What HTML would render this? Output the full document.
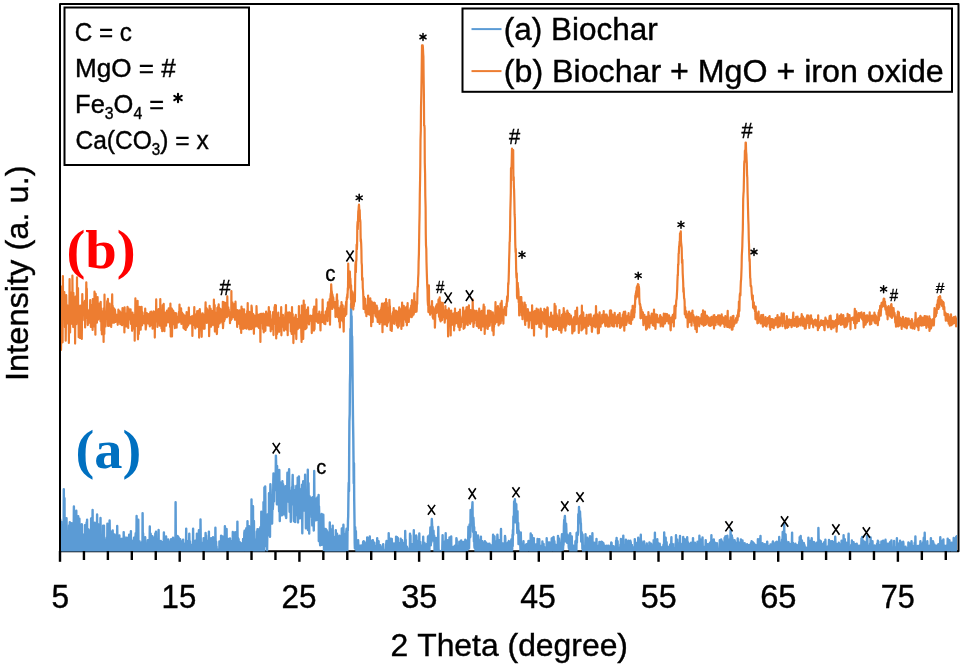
<!DOCTYPE html>
<html><head><meta charset="utf-8">
<style>
html,body{margin:0;padding:0;background:#fff;}
body{width:962px;height:665px;overflow:hidden;}
svg{display:block;will-change:transform;}
text{font-family:"Liberation Sans",sans-serif;fill:#000;stroke:#000;stroke-width:0.4px;font-kerning:none;white-space:pre;}
.serif{font-family:"Liberation Serif",serif;font-weight:bold;}
</style></head>
<body>
<svg width="962" height="665" viewBox="0 0 962 665">
<defs><clipPath id="pa"><rect x="61" y="5" width="896" height="546.5"/></clipPath></defs>
<rect x="0" y="0" width="962" height="665" fill="#fff"/>
<rect x="60" y="4" width="898.5" height="547.3" fill="none" stroke="#000" stroke-width="2" stroke-linejoin="round"/>
<g clip-path="url(#pa)" fill="none" stroke-linejoin="round">
<polyline stroke="#5B9BD5" stroke-width="2.4" points="60.0,532.1 60.2,519.4 60.5,561.0 60.7,560.0 61.0,540.1 61.2,521.6 61.4,571.4 61.7,525.0 61.9,526.3 62.2,562.5 62.4,540.2 62.6,541.0 62.9,561.3 63.1,536.5 63.4,535.2 63.6,534.2 63.8,489.3 64.1,526.8 64.3,532.7 64.5,498.2 64.8,565.2 65.0,546.6 65.3,533.0 65.5,559.2 65.7,561.3 66.0,535.3 66.2,536.3 66.5,518.2 66.7,532.8 66.9,535.4 67.2,535.8 67.4,542.6 67.7,571.4 67.9,562.1 68.1,531.1 68.4,544.7 68.6,563.7 68.9,571.4 69.1,525.5 69.3,547.2 69.6,542.0 69.8,522.2 70.1,535.8 70.3,524.6 70.5,532.9 70.8,529.7 71.0,552.4 71.3,535.3 71.5,536.0 71.7,523.2 72.0,539.3 72.2,534.1 72.4,560.5 72.7,564.1 72.9,540.5 73.2,547.8 73.4,526.8 73.6,539.0 73.9,506.4 74.1,534.5 74.4,534.2 74.6,533.4 74.8,532.4 75.1,570.3 75.3,537.7 75.6,567.1 75.8,538.6 76.0,552.1 76.3,510.7 76.5,544.6 76.8,532.7 77.0,541.5 77.2,567.8 77.5,567.9 77.7,549.3 78.0,525.8 78.2,516.1 78.4,566.7 78.7,535.5 78.9,564.5 79.2,545.8 79.4,518.8 79.6,535.9 79.9,546.5 80.1,561.6 80.3,556.2 80.6,535.7 80.8,539.8 81.1,539.0 81.3,544.1 81.5,561.2 81.8,524.3 82.0,571.3 82.3,564.7 82.5,541.5 82.7,571.2 83.0,565.1 83.2,540.3 83.5,563.5 83.7,550.6 83.9,562.0 84.2,534.2 84.4,539.2 84.7,565.6 84.9,525.2 85.1,541.3 85.4,536.1 85.6,533.7 85.9,564.8 86.1,537.7 86.3,531.1 86.6,522.5 86.8,549.1 87.1,519.8 87.3,571.8 87.5,559.4 87.8,529.4 88.0,550.1 88.2,563.6 88.5,529.4 88.7,561.0 89.0,571.2 89.2,530.5 89.4,568.0 89.7,533.2 89.9,545.8 90.2,547.0 90.4,541.6 90.6,564.4 90.9,559.0 91.1,518.4 91.4,567.1 91.6,542.4 91.8,544.5 92.1,564.3 92.3,540.1 92.6,510.0 92.8,538.8 93.0,538.8 93.3,525.1 93.5,533.3 93.8,537.7 94.0,540.7 94.2,526.8 94.5,570.9 94.7,522.8 95.0,557.2 95.2,540.9 95.4,539.2 95.7,563.4 95.9,545.8 96.1,531.3 96.4,535.9 96.6,534.7 96.9,537.2 97.1,514.5 97.3,543.5 97.6,541.9 97.8,547.9 98.1,560.2 98.3,564.7 98.5,524.4 98.8,530.1 99.0,553.3 99.3,538.2 99.5,540.6 99.7,538.4 100.0,537.0 100.2,544.7 100.5,518.0 100.7,541.1 100.9,537.9 101.2,559.4 101.4,549.3 101.7,558.8 101.9,542.3 102.1,566.9 102.4,565.0 102.6,535.4 102.9,553.7 103.1,525.6 103.3,532.8 103.6,528.7 103.8,540.6 104.0,525.6 104.3,564.2 104.5,565.3 104.8,568.8 105.0,547.0 105.2,547.2 105.5,566.7 105.7,540.0 106.0,563.3 106.2,539.7 106.4,550.9 106.7,537.7 106.9,568.6 107.2,545.6 107.4,523.7 107.6,540.9 107.9,565.9 108.1,538.4 108.4,539.6 108.6,567.5 108.8,540.4 109.1,563.4 109.3,565.7 109.6,520.4 109.8,531.5 110.0,561.4 110.3,564.5 110.5,545.9 110.8,554.7 111.0,539.7 111.2,534.7 111.5,546.2 111.7,531.5 111.9,534.9 112.2,553.7 112.4,536.1 112.7,530.5 112.9,550.3 113.1,541.3 113.4,540.0 113.6,540.7 113.9,556.3 114.1,539.6 114.3,540.4 114.6,534.4 114.8,535.4 115.1,565.6 115.3,538.3 115.5,567.3 115.8,560.2 116.0,552.3 116.3,565.8 116.5,540.4 116.7,550.1 117.0,542.3 117.2,525.9 117.5,545.7 117.7,549.0 117.9,544.3 118.2,566.6 118.4,556.3 118.7,545.9 118.9,554.1 119.1,540.7 119.4,535.4 119.6,546.1 119.8,567.9 120.1,565.0 120.3,550.6 120.6,549.6 120.8,547.4 121.0,565.5 121.3,569.3 121.5,538.9 121.8,543.0 122.0,548.3 122.2,558.6 122.5,538.8 122.7,554.7 123.0,554.6 123.2,568.6 123.4,558.4 123.7,532.1 123.9,549.4 124.2,548.5 124.4,536.7 124.6,542.9 124.9,552.3 125.1,569.6 125.4,563.6 125.6,547.2 125.8,568.9 126.1,557.3 126.3,540.8 126.6,539.4 126.8,537.7 127.0,542.3 127.3,547.6 127.5,563.1 127.8,559.3 128.0,540.4 128.2,564.4 128.5,563.7 128.7,545.2 128.9,540.9 129.2,534.6 129.4,555.7 129.7,553.0 129.9,539.5 130.1,543.6 130.4,541.9 130.6,567.6 130.9,531.1 131.1,565.5 131.3,540.3 131.6,569.7 131.8,543.7 132.1,568.1 132.3,540.9 132.5,540.9 132.8,541.9 133.0,546.9 133.3,548.0 133.5,566.1 133.7,562.7 134.0,537.8 134.2,545.4 134.5,566.6 134.7,566.0 134.9,541.9 135.2,567.9 135.4,538.4 135.7,533.2 135.9,547.9 136.1,555.2 136.4,540.9 136.6,516.0 136.8,554.7 137.1,542.2 137.3,538.7 137.6,533.1 137.8,556.0 138.0,558.1 138.3,519.8 138.5,556.4 138.8,568.1 139.0,566.3 139.2,546.9 139.5,541.2 139.7,553.0 140.0,564.4 140.2,552.0 140.4,563.3 140.7,560.3 140.9,546.5 141.2,565.5 141.4,549.5 141.6,549.5 141.9,542.1 142.1,567.1 142.4,561.6 142.6,513.1 142.8,535.6 143.1,533.5 143.3,551.2 143.6,568.6 143.8,551.8 144.0,556.0 144.3,565.4 144.5,546.2 144.7,556.1 145.0,553.6 145.2,537.2 145.5,546.4 145.7,553.3 145.9,567.9 146.2,550.7 146.4,545.8 146.7,550.3 146.9,546.0 147.1,544.1 147.4,545.7 147.6,547.9 147.9,540.1 148.1,566.7 148.3,553.5 148.6,555.5 148.8,570.4 149.1,571.9 149.3,565.9 149.5,551.7 149.8,526.4 150.0,552.5 150.3,546.2 150.5,563.8 150.7,533.8 151.0,564.1 151.2,549.6 151.5,565.6 151.7,560.6 151.9,551.6 152.2,546.8 152.4,536.2 152.6,566.8 152.9,538.7 153.1,541.1 153.4,542.5 153.6,537.8 153.8,543.1 154.1,541.8 154.3,549.9 154.6,554.1 154.8,566.4 155.0,554.2 155.3,533.4 155.5,565.7 155.8,549.3 156.0,531.8 156.2,554.6 156.5,559.4 156.7,558.4 157.0,567.1 157.2,545.2 157.4,539.8 157.7,550.4 157.9,562.7 158.2,542.7 158.4,544.0 158.6,530.0 158.9,566.5 159.1,547.7 159.4,543.0 159.6,561.9 159.8,568.5 160.1,564.4 160.3,552.6 160.5,545.7 160.8,541.0 161.0,560.8 161.3,567.0 161.5,571.0 161.7,567.8 162.0,546.9 162.2,547.9 162.5,542.3 162.7,546.1 162.9,542.1 163.2,559.0 163.4,545.5 163.7,545.6 163.9,532.4 164.1,564.4 164.4,547.2 164.6,544.3 164.9,545.7 165.1,560.9 165.3,572.0 165.6,552.2 165.8,553.1 166.1,536.5 166.3,553.1 166.5,547.2 166.8,541.6 167.0,562.6 167.3,545.7 167.5,539.8 167.7,547.0 168.0,571.8 168.2,539.4 168.4,543.4 168.7,544.2 168.9,548.0 169.2,545.7 169.4,548.2 169.6,541.8 169.9,548.5 170.1,562.8 170.4,541.5 170.6,569.6 170.8,549.3 171.1,539.1 171.3,563.6 171.6,561.7 171.8,540.6 172.0,547.4 172.3,542.7 172.5,559.5 172.8,548.4 173.0,537.6 173.2,545.4 173.5,545.7 173.7,543.8 174.0,566.2 174.2,545.3 174.4,547.9 174.7,553.7 174.9,550.4 175.2,550.4 175.4,547.7 175.6,502.3 175.9,549.1 176.1,547.4 176.3,548.8 176.6,545.4 176.8,567.4 177.1,536.0 177.3,548.7 177.5,561.8 177.8,536.3 178.0,546.8 178.3,543.4 178.5,560.3 178.7,537.4 179.0,566.0 179.2,546.8 179.5,553.3 179.7,547.9 179.9,539.2 180.2,539.2 180.4,547.1 180.7,541.3 180.9,547.3 181.1,566.7 181.4,546.0 181.6,570.3 181.9,567.0 182.1,543.0 182.3,541.2 182.6,562.1 182.8,542.3 183.1,539.6 183.3,547.6 183.5,567.9 183.8,543.5 184.0,551.8 184.2,544.4 184.5,548.8 184.7,544.5 185.0,551.5 185.2,547.1 185.4,546.4 185.7,544.6 185.9,553.2 186.2,528.6 186.4,550.7 186.6,550.3 186.9,562.7 187.1,561.0 187.4,567.2 187.6,541.3 187.8,543.0 188.1,553.5 188.3,569.1 188.6,550.0 188.8,541.4 189.0,547.0 189.3,533.6 189.5,544.2 189.8,544.9 190.0,541.4 190.2,566.3 190.5,549.5 190.7,551.6 191.0,547.8 191.2,547.0 191.4,555.8 191.7,547.8 191.9,544.6 192.1,556.1 192.4,556.0 192.6,554.4 192.9,550.9 193.1,528.7 193.3,567.9 193.6,554.0 193.8,554.7 194.1,547.3 194.3,571.7 194.5,547.5 194.8,554.8 195.0,551.3 195.3,540.7 195.5,554.0 195.7,545.0 196.0,548.4 196.2,548.2 196.5,562.4 196.7,555.0 196.9,533.6 197.2,536.0 197.4,544.1 197.7,563.3 197.9,544.2 198.1,545.4 198.4,541.4 198.6,553.0 198.9,530.2 199.1,559.5 199.3,557.4 199.6,550.3 199.8,566.3 200.0,539.3 200.3,565.8 200.5,519.4 200.8,545.2 201.0,544.1 201.2,543.8 201.5,545.9 201.7,567.9 202.0,545.2 202.2,570.6 202.4,546.7 202.7,570.1 202.9,542.6 203.2,565.3 203.4,548.0 203.6,538.2 203.9,570.5 204.1,568.8 204.4,560.0 204.6,562.9 204.8,553.8 205.1,550.3 205.3,547.5 205.6,533.0 205.8,550.8 206.0,535.4 206.3,543.5 206.5,569.2 206.8,548.2 207.0,572.6 207.2,540.6 207.5,565.2 207.7,555.5 207.9,565.6 208.2,543.3 208.4,552.6 208.7,551.0 208.9,531.6 209.1,569.3 209.4,542.9 209.6,563.4 209.9,539.5 210.1,568.7 210.3,546.2 210.6,565.2 210.8,545.7 211.1,538.1 211.3,559.0 211.5,550.7 211.8,541.1 212.0,544.7 212.3,549.7 212.5,544.3 212.7,560.2 213.0,537.2 213.2,550.1 213.5,541.2 213.7,565.3 213.9,541.7 214.2,548.3 214.4,542.0 214.7,542.7 214.9,548.1 215.1,567.0 215.4,527.8 215.6,542.3 215.8,552.5 216.1,541.8 216.3,550.3 216.6,546.6 216.8,563.8 217.0,570.7 217.3,550.0 217.5,549.6 217.8,567.8 218.0,551.9 218.2,550.4 218.5,553.6 218.7,560.7 219.0,564.3 219.2,568.7 219.4,541.4 219.7,565.4 219.9,550.3 220.2,544.9 220.4,545.9 220.6,559.4 220.9,555.8 221.1,535.6 221.4,546.3 221.6,539.3 221.8,560.2 222.1,544.4 222.3,565.2 222.6,536.5 222.8,566.8 223.0,568.9 223.3,548.0 223.5,540.6 223.7,559.4 224.0,550.3 224.2,538.8 224.5,562.3 224.7,546.5 224.9,526.2 225.2,568.3 225.4,563.3 225.7,547.4 225.9,566.5 226.1,558.5 226.4,544.6 226.6,528.9 226.9,569.7 227.1,543.2 227.3,548.7 227.6,544.5 227.8,540.6 228.1,564.4 228.3,539.0 228.5,544.8 228.8,552.1 229.0,544.3 229.3,545.7 229.5,553.3 229.7,564.1 230.0,538.4 230.2,554.7 230.5,544.8 230.7,541.0 230.9,547.0 231.2,549.8 231.4,547.5 231.6,544.8 231.9,542.1 232.1,566.2 232.4,556.3 232.6,564.0 232.8,532.0 233.1,556.6 233.3,550.2 233.6,552.8 233.8,536.8 234.0,561.0 234.3,562.4 234.5,548.2 234.8,552.0 235.0,568.7 235.2,532.1 235.5,559.1 235.7,552.8 236.0,565.8 236.2,544.8 236.4,540.4 236.7,546.1 236.9,554.1 237.2,547.6 237.4,521.6 237.6,540.2 237.9,555.4 238.1,538.3 238.4,548.4 238.6,539.2 238.8,571.0 239.1,571.1 239.3,553.0 239.5,545.7 239.8,542.2 240.0,544.9 240.3,552.7 240.5,553.9 240.7,548.8 241.0,560.6 241.2,550.5 241.5,554.1 241.7,545.0 241.9,546.8 242.2,543.0 242.4,562.9 242.7,563.2 242.9,566.5 243.1,539.0 243.4,548.7 243.6,545.4 243.9,538.8 244.1,545.2 244.3,533.2 244.6,530.8 244.8,546.9 245.1,539.0 245.3,548.2 245.5,552.5 245.8,544.2 246.0,561.9 246.3,528.3 246.5,552.0 246.7,538.9 247.0,543.3 247.2,552.7 247.5,521.2 247.7,566.7 247.9,568.7 248.2,530.0 248.4,554.4 248.6,555.2 248.9,559.0 249.1,526.3 249.4,563.1 249.6,528.1 249.8,565.5 250.1,557.6 250.3,540.6 250.6,542.3 250.8,540.4 251.0,536.2 251.3,561.6 251.5,499.5 251.8,550.2 252.0,532.8 252.2,542.2 252.5,561.6 252.7,527.8 253.0,506.2 253.2,545.2 253.4,540.7 253.7,559.9 253.9,521.0 254.2,541.8 254.4,559.0 254.6,540.9 254.9,541.4 255.1,566.5 255.4,563.3 255.6,539.4 255.8,540.6 256.1,539.4 256.3,549.1 256.5,556.3 256.8,531.5 257.0,536.4 257.3,565.8 257.5,529.1 257.7,563.3 258.0,543.8 258.2,542.0 258.5,540.9 258.7,529.4 258.9,535.2 259.2,539.4 259.4,532.2 259.7,543.9 259.9,557.2 260.1,529.5 260.4,527.1 260.6,538.4 260.9,557.2 261.1,558.2 261.3,511.6 261.6,530.6 261.8,538.4 262.1,535.1 262.3,528.9 262.5,557.3 262.8,542.0 263.0,517.9 263.3,560.9 263.5,502.1 263.7,558.8 264.0,535.7 264.2,554.1 264.4,487.4 264.7,531.8 264.9,523.2 265.2,486.4 265.4,501.6 265.6,546.0 265.9,530.6 266.1,518.7 266.4,515.1 266.6,522.7 266.8,522.0 267.1,550.6 267.3,535.4 267.6,514.4 267.8,531.2 268.0,535.2 268.3,516.1 268.5,528.7 268.8,534.8 269.0,493.3 269.2,510.1 269.5,515.5 269.7,502.5 270.0,536.7 270.2,498.0 270.4,484.2 270.7,491.6 270.9,501.4 271.2,508.8 271.4,506.3 271.6,519.9 271.9,507.6 272.1,523.5 272.3,510.0 272.6,495.7 272.8,509.4 273.1,504.4 273.3,480.9 273.5,473.4 273.8,493.0 274.0,501.5 274.3,478.6 274.5,477.3 274.7,480.5 275.0,477.8 275.2,490.1 275.5,481.2 275.7,473.4 275.9,455.6 276.2,466.1 276.4,482.8 276.7,476.3 276.9,504.2 277.1,465.9 277.4,495.5 277.6,492.0 277.9,479.1 278.1,476.8 278.3,500.8 278.6,481.8 278.8,497.1 279.1,511.1 279.3,470.0 279.5,491.3 279.8,521.1 280.0,482.2 280.2,494.8 280.5,497.2 280.7,493.5 281.0,499.4 281.2,494.8 281.4,501.2 281.7,489.5 281.9,515.3 282.2,483.2 282.4,481.3 282.6,500.4 282.9,498.6 283.1,484.3 283.4,493.9 283.6,507.3 283.8,513.3 284.1,514.4 284.3,492.6 284.6,511.9 284.8,493.8 285.0,496.8 285.3,496.5 285.5,486.3 285.8,516.5 286.0,513.7 286.2,518.1 286.5,495.6 286.7,486.3 287.0,491.7 287.2,489.0 287.4,472.8 287.7,501.1 287.9,497.2 288.1,474.7 288.4,489.8 288.6,501.7 288.9,478.3 289.1,469.3 289.3,493.3 289.6,511.8 289.8,495.2 290.1,490.8 290.3,496.5 290.5,500.5 290.8,521.8 291.0,494.0 291.3,497.1 291.5,495.0 291.7,499.5 292.0,487.2 292.2,504.3 292.5,481.8 292.7,474.9 292.9,499.5 293.2,496.8 293.4,485.8 293.7,518.0 293.9,521.2 294.1,501.5 294.4,492.2 294.6,500.6 294.9,495.4 295.1,522.1 295.3,516.3 295.6,489.9 295.8,511.3 296.0,500.5 296.3,486.0 296.5,515.1 296.8,504.3 297.0,498.4 297.2,512.8 297.5,511.6 297.7,477.6 298.0,522.4 298.2,487.0 298.4,491.9 298.7,508.8 298.9,476.4 299.2,508.0 299.4,507.8 299.6,488.8 299.9,518.3 300.1,500.7 300.4,508.9 300.6,497.6 300.8,498.7 301.1,508.8 301.3,513.2 301.6,493.9 301.8,502.3 302.0,484.6 302.3,533.2 302.5,507.7 302.8,507.0 303.0,486.2 303.2,481.3 303.5,504.2 303.7,508.6 303.9,510.6 304.2,499.6 304.4,507.9 304.7,505.2 304.9,504.1 305.1,474.8 305.4,498.9 305.6,498.8 305.9,528.2 306.1,491.5 306.3,527.8 306.6,518.2 306.8,492.1 307.1,500.8 307.3,519.2 307.5,521.4 307.8,469.8 308.0,530.0 308.3,517.9 308.5,483.2 308.7,495.9 309.0,509.0 309.2,533.6 309.5,496.1 309.7,506.3 309.9,504.1 310.2,510.0 310.4,498.4 310.7,497.6 310.9,509.7 311.1,505.3 311.4,513.7 311.6,506.0 311.8,517.2 312.1,516.5 312.3,525.4 312.6,509.5 312.8,497.2 313.0,502.2 313.3,506.4 313.5,522.1 313.8,530.6 314.0,514.0 314.2,470.9 314.5,511.2 314.7,510.2 315.0,510.6 315.2,504.3 315.4,498.4 315.7,506.6 315.9,520.4 316.2,509.8 316.4,516.0 316.6,511.2 316.9,511.5 317.1,516.2 317.4,497.4 317.6,501.7 317.8,519.8 318.1,514.2 318.3,515.0 318.6,495.0 318.8,541.1 319.0,506.4 319.3,517.2 319.5,536.6 319.7,519.1 320.0,542.4 320.2,545.4 320.5,533.9 320.7,514.6 320.9,532.6 321.2,533.1 321.4,534.6 321.7,514.0 321.9,537.3 322.1,544.8 322.4,539.3 322.6,538.1 322.9,536.7 323.1,535.1 323.3,514.8 323.6,535.1 323.8,528.3 324.1,561.7 324.3,542.7 324.5,555.4 324.8,545.0 325.0,540.1 325.3,535.8 325.5,557.7 325.7,528.9 326.0,541.6 326.2,545.5 326.5,561.0 326.7,530.3 326.9,563.0 327.2,531.8 327.4,540.7 327.6,550.5 327.9,536.0 328.1,535.6 328.4,553.4 328.6,561.9 328.8,541.0 329.1,532.4 329.3,554.7 329.6,544.9 329.8,522.4 330.0,563.7 330.3,551.2 330.5,529.2 330.8,531.5 331.0,541.2 331.2,539.2 331.5,540.6 331.7,567.2 332.0,549.0 332.2,563.5 332.4,541.7 332.7,525.6 332.9,546.2 333.2,565.6 333.4,546.2 333.6,540.5 333.9,539.6 334.1,542.5 334.4,550.9 334.6,563.0 334.8,557.7 335.1,536.7 335.3,545.9 335.5,554.4 335.8,530.3 336.0,566.5 336.3,545.7 336.5,539.4 336.7,546.7 337.0,533.6 337.2,558.9 337.5,547.6 337.7,559.9 337.9,545.5 338.2,558.5 338.4,553.4 338.7,550.3 338.9,536.4 339.1,558.3 339.4,535.8 339.6,541.8 339.9,537.4 340.1,558.9 340.3,546.7 340.6,546.0 340.8,551.3 341.1,542.6 341.3,549.8 341.5,552.2 341.8,528.5 342.0,537.8 342.3,533.9 342.5,544.1 342.7,536.1 343.0,545.4 343.2,565.7 343.4,524.7 343.7,538.9 343.9,542.3 344.2,544.9 344.4,544.4 344.6,555.7 344.9,544.2 345.1,544.1 345.4,548.8 345.6,535.1 345.8,533.8 346.1,546.7 346.3,531.9 346.6,528.6 346.8,555.8 347.0,552.5 347.3,554.9 347.5,529.7 347.8,530.5 348.0,520.1 348.2,516.4 348.5,490.9 348.7,482.7 349.0,491.3 349.2,450.3 349.4,421.4 349.7,414.1 349.9,384.7 350.2,372.1 350.4,329.0 350.6,348.3 350.9,323.7 351.1,304.0 351.3,323.9 351.6,316.3 351.8,339.0 352.1,336.4 352.3,352.0 352.5,373.4 352.8,402.8 353.0,419.7 353.3,438.0 353.5,457.9 353.7,483.3 354.0,463.2 354.2,499.1 354.5,519.2 354.7,542.8 354.9,548.5 355.2,527.3 355.4,540.3 355.7,541.6 355.9,531.2 356.1,548.9 356.4,543.3 356.6,558.5 356.9,544.0 357.1,561.0 357.3,544.3 357.6,549.8 357.8,563.6 358.1,540.1 358.3,544.2 358.5,549.4 358.8,559.4 359.0,561.3 359.2,563.0 359.5,545.8 359.7,563.6 360.0,550.4 360.2,551.2 360.4,559.1 360.7,554.8 360.9,556.9 361.2,545.4 361.4,549.9 361.6,548.4 361.9,549.2 362.1,548.2 362.4,545.7 362.6,547.9 362.8,565.0 363.1,542.0 363.3,553.2 363.6,541.3 363.8,561.8 364.0,555.9 364.3,541.6 364.5,563.9 364.8,549.7 365.0,546.0 365.2,548.9 365.5,549.5 365.7,563.9 366.0,564.5 366.2,562.0 366.4,544.9 366.7,542.6 366.9,554.6 367.2,537.5 367.4,543.2 367.6,542.9 367.9,550.5 368.1,538.0 368.3,549.3 368.6,553.2 368.8,561.6 369.1,556.3 369.3,539.4 369.5,549.3 369.8,536.4 370.0,562.6 370.3,566.4 370.5,542.9 370.7,547.2 371.0,550.4 371.2,550.8 371.5,550.6 371.7,540.8 371.9,548.8 372.2,546.6 372.4,545.3 372.7,564.0 372.9,540.3 373.1,544.1 373.4,562.8 373.6,544.6 373.9,544.9 374.1,550.7 374.3,542.6 374.6,550.4 374.8,547.5 375.1,555.3 375.3,561.3 375.5,545.9 375.8,554.2 376.0,551.7 376.2,552.5 376.5,557.3 376.7,560.0 377.0,545.8 377.2,538.3 377.4,546.3 377.7,559.9 377.9,547.9 378.2,541.6 378.4,550.7 378.6,541.2 378.9,564.7 379.1,548.9 379.4,560.9 379.6,546.4 379.8,563.3 380.1,548.3 380.3,545.2 380.6,546.7 380.8,550.8 381.0,547.7 381.3,549.2 381.5,559.9 381.8,563.0 382.0,561.5 382.2,550.2 382.5,550.1 382.7,558.1 383.0,547.0 383.2,544.1 383.4,550.5 383.7,560.0 383.9,560.9 384.1,562.8 384.4,563.2 384.6,555.6 384.9,551.4 385.1,560.9 385.3,550.1 385.6,551.0 385.8,551.7 386.1,547.2 386.3,543.0 386.5,541.0 386.8,555.4 387.0,555.0 387.3,544.0 387.5,542.2 387.7,554.6 388.0,543.2 388.2,545.9 388.5,561.2 388.7,533.2 388.9,543.9 389.2,550.4 389.4,547.4 389.7,542.5 389.9,541.0 390.1,562.2 390.4,540.4 390.6,538.7 390.9,550.3 391.1,547.5 391.3,539.6 391.6,551.3 391.8,538.9 392.0,544.3 392.3,555.8 392.5,550.7 392.8,564.3 393.0,552.3 393.2,549.4 393.5,546.6 393.7,561.1 394.0,543.4 394.2,549.9 394.4,545.6 394.7,555.3 394.9,557.1 395.2,552.8 395.4,563.6 395.6,544.4 395.9,547.8 396.1,536.6 396.4,539.9 396.6,553.6 396.8,553.1 397.1,537.1 397.3,545.9 397.6,539.4 397.8,537.9 398.0,552.4 398.3,550.5 398.5,548.1 398.8,554.5 399.0,555.3 399.2,551.4 399.5,542.9 399.7,551.7 399.9,562.5 400.2,551.8 400.4,557.9 400.7,538.7 400.9,564.5 401.1,564.2 401.4,544.9 401.6,562.6 401.9,544.6 402.1,540.2 402.3,554.5 402.6,547.3 402.8,545.4 403.1,542.6 403.3,548.1 403.5,563.2 403.8,549.4 404.0,545.5 404.3,548.8 404.5,544.4 404.7,556.8 405.0,560.8 405.2,530.9 405.5,550.7 405.7,539.7 405.9,565.9 406.2,546.2 406.4,554.7 406.7,548.2 406.9,546.7 407.1,563.2 407.4,548.1 407.6,562.9 407.8,556.3 408.1,556.2 408.3,563.3 408.6,555.1 408.8,554.3 409.0,561.4 409.3,554.8 409.5,554.6 409.8,555.1 410.0,533.8 410.2,560.9 410.5,535.5 410.7,555.5 411.0,544.2 411.2,555.1 411.4,544.8 411.7,544.1 411.9,559.3 412.2,546.1 412.4,556.5 412.6,544.9 412.9,553.5 413.1,555.1 413.4,558.3 413.6,548.0 413.8,530.2 414.1,557.4 414.3,558.1 414.6,548.6 414.8,550.2 415.0,553.3 415.3,543.2 415.5,543.0 415.7,544.1 416.0,550.0 416.2,535.4 416.5,537.0 416.7,561.3 416.9,549.9 417.2,540.7 417.4,560.0 417.7,545.9 417.9,548.3 418.1,553.3 418.4,550.1 418.6,560.4 418.9,552.2 419.1,561.9 419.3,533.4 419.6,556.0 419.8,553.4 420.1,550.9 420.3,541.9 420.5,563.0 420.8,558.7 421.0,558.3 421.3,554.6 421.5,545.6 421.7,552.0 422.0,556.3 422.2,556.1 422.5,562.8 422.7,561.8 422.9,557.5 423.2,536.8 423.4,550.2 423.6,550.9 423.9,565.9 424.1,554.4 424.4,542.6 424.6,563.8 424.8,564.3 425.1,545.8 425.3,561.8 425.6,547.0 425.8,557.9 426.0,545.7 426.3,548.6 426.5,544.1 426.8,544.9 427.0,545.9 427.2,552.0 427.5,547.5 427.7,545.9 428.0,536.5 428.2,543.7 428.4,553.3 428.7,554.1 428.9,545.9 429.2,553.6 429.4,552.4 429.6,535.0 429.9,537.9 430.1,536.0 430.4,527.4 430.6,530.2 430.8,545.4 431.1,529.8 431.3,542.4 431.5,531.0 431.8,519.0 432.0,522.5 432.3,531.2 432.5,526.7 432.7,534.6 433.0,540.5 433.2,538.2 433.5,530.8 433.7,535.7 433.9,540.2 434.2,535.6 434.4,538.3 434.7,563.3 434.9,544.4 435.1,539.7 435.4,559.5 435.6,552.0 435.9,545.9 436.1,537.9 436.3,558.5 436.6,542.4 436.8,553.5 437.1,560.2 437.3,543.6 437.5,547.8 437.8,551.4 438.0,552.9 438.3,527.0 438.5,545.3 438.7,556.6 439.0,554.4 439.2,550.7 439.4,550.9 439.7,560.5 439.9,561.5 440.2,556.9 440.4,551.6 440.6,557.4 440.9,557.4 441.1,551.0 441.4,552.1 441.6,560.7 441.8,550.7 442.1,562.0 442.3,547.9 442.6,535.1 442.8,552.6 443.0,545.5 443.3,543.8 443.5,554.8 443.8,552.4 444.0,547.5 444.2,551.6 444.5,565.1 444.7,541.8 445.0,541.2 445.2,549.8 445.4,547.3 445.7,533.2 445.9,555.8 446.2,547.1 446.4,548.6 446.6,558.5 446.9,544.3 447.1,547.5 447.3,549.0 447.6,540.2 447.8,550.0 448.1,547.3 448.3,548.9 448.5,551.2 448.8,548.7 449.0,553.9 449.3,543.7 449.5,537.5 449.7,537.5 450.0,540.3 450.2,554.9 450.5,538.7 450.7,553.2 450.9,548.9 451.2,536.5 451.4,555.6 451.7,547.0 451.9,546.7 452.1,549.6 452.4,554.3 452.6,551.4 452.9,563.8 453.1,553.5 453.3,560.9 453.6,557.5 453.8,546.8 454.1,560.6 454.3,556.2 454.5,551.8 454.8,547.9 455.0,549.9 455.2,545.8 455.5,557.6 455.7,545.1 456.0,556.3 456.2,563.1 456.4,538.2 456.7,539.9 456.9,559.0 457.2,557.2 457.4,546.0 457.6,559.9 457.9,550.1 458.1,551.4 458.4,560.1 458.6,564.8 458.8,562.7 459.1,556.3 459.3,541.8 459.6,561.6 459.8,559.4 460.0,545.1 460.3,543.7 460.5,549.9 460.8,550.4 461.0,545.4 461.2,540.4 461.5,549.6 461.7,553.2 462.0,548.5 462.2,550.6 462.4,560.8 462.7,563.2 462.9,560.6 463.1,565.2 463.4,542.0 463.6,545.6 463.9,542.3 464.1,558.0 464.3,544.2 464.6,551.5 464.8,559.0 465.1,561.6 465.3,539.7 465.5,542.0 465.8,558.8 466.0,554.3 466.3,546.7 466.5,549.5 466.7,541.0 467.0,555.1 467.2,542.8 467.5,549.6 467.7,543.6 467.9,546.8 468.2,538.6 468.4,526.7 468.7,548.6 468.9,540.1 469.1,548.2 469.4,530.7 469.6,524.4 469.9,529.0 470.1,537.3 470.3,536.3 470.6,509.9 470.8,517.7 471.0,522.1 471.3,518.9 471.5,522.6 471.8,523.5 472.0,525.0 472.2,507.8 472.5,502.3 472.7,520.7 473.0,531.7 473.2,528.5 473.4,517.7 473.7,524.1 473.9,541.5 474.2,527.2 474.4,545.9 474.6,548.0 474.9,533.2 475.1,538.7 475.4,543.6 475.6,553.8 475.8,532.2 476.1,553.2 476.3,549.0 476.6,552.9 476.8,545.1 477.0,540.6 477.3,554.4 477.5,551.5 477.8,558.6 478.0,535.4 478.2,561.7 478.5,560.3 478.7,546.2 478.9,550.3 479.2,562.1 479.4,543.9 479.7,552.4 479.9,540.1 480.1,562.1 480.4,553.5 480.6,539.7 480.9,536.6 481.1,558.8 481.3,550.7 481.6,559.1 481.8,544.6 482.1,556.7 482.3,541.3 482.5,558.1 482.8,560.1 483.0,546.3 483.3,563.5 483.5,547.6 483.7,556.0 484.0,542.6 484.2,557.6 484.5,547.1 484.7,553.3 484.9,541.1 485.2,542.9 485.4,552.4 485.7,544.8 485.9,542.4 486.1,559.2 486.4,551.8 486.6,561.4 486.9,552.1 487.1,546.4 487.3,560.6 487.6,543.8 487.8,543.7 488.0,549.5 488.3,562.7 488.5,552.1 488.8,551.8 489.0,563.8 489.2,549.0 489.5,543.8 489.7,551.2 490.0,555.8 490.2,563.0 490.4,554.9 490.7,545.3 490.9,559.3 491.2,547.9 491.4,556.1 491.6,550.6 491.9,563.0 492.1,551.2 492.4,563.6 492.6,549.1 492.8,550.8 493.1,534.8 493.3,548.4 493.6,546.3 493.8,548.5 494.0,543.3 494.3,540.7 494.5,536.5 494.8,558.9 495.0,559.6 495.2,541.2 495.5,548.4 495.7,546.9 495.9,561.1 496.2,552.0 496.4,561.1 496.7,559.7 496.9,551.8 497.1,546.6 497.4,534.6 497.6,538.1 497.9,559.5 498.1,560.0 498.3,543.0 498.6,563.8 498.8,548.6 499.1,558.8 499.3,540.1 499.5,545.0 499.8,564.8 500.0,549.1 500.3,545.9 500.5,550.2 500.7,548.7 501.0,528.9 501.2,549.6 501.5,554.4 501.7,546.7 501.9,561.5 502.2,550.2 502.4,548.8 502.7,543.4 502.9,546.7 503.1,545.1 503.4,563.3 503.6,560.3 503.8,551.1 504.1,547.1 504.3,543.2 504.6,554.7 504.8,546.0 505.0,536.0 505.3,538.2 505.5,548.3 505.8,563.2 506.0,552.1 506.2,556.9 506.5,544.4 506.7,545.3 507.0,558.0 507.2,547.3 507.4,559.7 507.7,543.0 507.9,544.6 508.2,542.3 508.4,547.7 508.6,542.2 508.9,541.1 509.1,548.6 509.4,547.8 509.6,560.1 509.8,562.7 510.1,559.4 510.3,553.7 510.6,543.1 510.8,541.5 511.0,553.3 511.3,539.8 511.5,539.2 511.7,551.3 512.0,546.5 512.2,549.9 512.5,534.7 512.7,546.0 512.9,529.9 513.2,535.1 513.4,516.5 513.7,521.5 513.9,522.4 514.1,501.4 514.4,518.2 514.6,522.3 514.9,499.3 515.1,519.1 515.3,516.8 515.6,503.4 515.8,515.6 516.1,517.2 516.3,504.2 516.5,522.4 516.8,523.5 517.0,517.3 517.3,533.1 517.5,511.3 517.7,530.5 518.0,532.0 518.2,522.9 518.5,544.0 518.7,530.3 518.9,532.2 519.2,541.0 519.4,543.0 519.6,541.8 519.9,538.0 520.1,539.6 520.4,547.9 520.6,558.0 520.8,532.5 521.1,548.5 521.3,546.5 521.6,557.1 521.8,549.5 522.0,553.2 522.3,549.2 522.5,549.4 522.8,551.2 523.0,556.4 523.2,549.4 523.5,541.3 523.7,562.7 524.0,547.5 524.2,560.5 524.4,561.0 524.7,548.5 524.9,555.4 525.2,558.5 525.4,545.4 525.6,552.9 525.9,544.9 526.1,560.5 526.4,544.2 526.6,550.1 526.8,557.3 527.1,563.4 527.3,550.1 527.5,545.2 527.8,550.9 528.0,550.5 528.3,542.9 528.5,541.0 528.7,543.5 529.0,541.8 529.2,545.4 529.5,548.7 529.7,542.8 529.9,545.8 530.2,547.9 530.4,560.0 530.7,533.5 530.9,548.2 531.1,549.7 531.4,550.5 531.6,548.5 531.9,535.3 532.1,541.9 532.3,560.4 532.6,546.5 532.8,558.1 533.1,546.7 533.3,561.9 533.5,548.1 533.8,538.1 534.0,546.1 534.3,559.1 534.5,560.3 534.7,553.2 535.0,548.1 535.2,562.6 535.4,558.4 535.7,552.8 535.9,544.4 536.2,558.6 536.4,547.7 536.6,562.2 536.9,551.2 537.1,559.2 537.4,547.6 537.6,538.9 537.8,547.4 538.1,546.1 538.3,554.4 538.6,560.8 538.8,551.7 539.0,543.5 539.3,539.1 539.5,554.2 539.8,547.8 540.0,548.3 540.2,561.8 540.5,545.6 540.7,548.5 541.0,555.6 541.2,562.5 541.4,560.6 541.7,561.9 541.9,552.4 542.2,558.8 542.4,541.4 542.6,551.4 542.9,548.3 543.1,547.5 543.3,558.6 543.6,544.0 543.8,561.8 544.1,554.7 544.3,551.4 544.5,562.0 544.8,559.6 545.0,547.4 545.3,547.9 545.5,548.5 545.7,551.1 546.0,560.2 546.2,549.3 546.5,563.7 546.7,538.2 546.9,557.9 547.2,550.6 547.4,556.4 547.7,547.4 547.9,549.2 548.1,546.9 548.4,554.5 548.6,542.4 548.9,547.3 549.1,554.4 549.3,552.9 549.6,542.5 549.8,550.5 550.1,561.1 550.3,544.3 550.5,547.4 550.8,557.4 551.0,563.1 551.2,542.5 551.5,556.6 551.7,538.4 552.0,546.0 552.2,543.5 552.4,538.6 552.7,549.9 552.9,537.6 553.2,537.6 553.4,543.4 553.6,537.0 553.9,542.9 554.1,553.3 554.4,541.2 554.6,546.0 554.8,562.6 555.1,547.0 555.3,551.9 555.6,560.1 555.8,552.0 556.0,544.9 556.3,548.2 556.5,552.1 556.8,550.3 557.0,559.0 557.2,551.2 557.5,545.4 557.7,548.4 558.0,535.9 558.2,539.9 558.4,558.7 558.7,539.9 558.9,538.5 559.1,548.5 559.4,559.1 559.6,547.2 559.9,542.6 560.1,547.4 560.3,547.2 560.6,545.2 560.8,550.3 561.1,555.0 561.3,552.2 561.5,540.6 561.8,537.4 562.0,534.1 562.3,540.9 562.5,548.2 562.7,544.7 563.0,549.6 563.2,545.9 563.5,544.8 563.7,539.6 563.9,526.8 564.2,519.9 564.4,530.7 564.7,517.7 564.9,516.0 565.1,521.2 565.4,541.2 565.6,523.4 565.9,531.9 566.1,523.6 566.3,528.3 566.6,537.7 566.8,538.5 567.0,542.8 567.3,536.4 567.5,534.4 567.8,535.7 568.0,535.7 568.2,541.2 568.5,541.1 568.7,546.8 569.0,548.9 569.2,536.2 569.4,540.4 569.7,540.0 569.9,544.0 570.2,533.1 570.4,556.1 570.6,545.4 570.9,553.1 571.1,556.7 571.4,558.5 571.6,551.1 571.8,536.5 572.1,556.8 572.3,555.2 572.6,548.7 572.8,554.6 573.0,548.5 573.3,545.8 573.5,555.5 573.8,559.8 574.0,547.5 574.2,548.1 574.5,546.6 574.7,547.5 574.9,552.4 575.2,555.0 575.4,541.7 575.7,540.8 575.9,549.3 576.1,553.8 576.4,550.1 576.6,533.0 576.9,542.8 577.1,532.4 577.3,535.6 577.6,534.3 577.8,535.0 578.1,532.0 578.3,514.2 578.5,521.0 578.8,519.2 579.0,507.0 579.3,519.0 579.5,514.7 579.7,517.9 580.0,511.5 580.2,516.6 580.5,519.2 580.7,524.3 580.9,523.2 581.2,541.6 581.4,541.4 581.7,532.1 581.9,535.8 582.1,537.1 582.4,548.8 582.6,534.5 582.8,545.2 583.1,546.6 583.3,552.7 583.6,553.3 583.8,555.3 584.0,555.7 584.3,551.0 584.5,547.7 584.8,546.2 585.0,546.1 585.2,547.5 585.5,534.3 585.7,543.9 586.0,554.3 586.2,550.8 586.4,551.1 586.7,548.4 586.9,550.9 587.2,552.5 587.4,537.8 587.6,547.3 587.9,544.5 588.1,560.8 588.4,548.9 588.6,539.5 588.8,544.9 589.1,541.1 589.3,565.5 589.6,545.9 589.8,541.6 590.0,536.3 590.3,547.7 590.5,557.9 590.7,544.4 591.0,551.4 591.2,558.4 591.5,559.4 591.7,560.4 591.9,558.8 592.2,543.7 592.4,533.3 592.7,556.1 592.9,561.9 593.1,560.7 593.4,556.4 593.6,548.3 593.9,545.4 594.1,542.8 594.3,547.5 594.6,548.4 594.8,558.7 595.1,559.0 595.3,563.4 595.5,542.7 595.8,557.6 596.0,548.1 596.3,546.3 596.5,538.9 596.7,562.3 597.0,547.8 597.2,562.4 597.5,556.8 597.7,551.5 597.9,561.3 598.2,547.7 598.4,547.6 598.6,559.0 598.9,545.5 599.1,558.3 599.4,541.9 599.6,547.0 599.8,548.2 600.1,545.3 600.3,558.1 600.6,554.5 600.8,555.5 601.0,543.2 601.3,548.0 601.5,541.6 601.8,547.9 602.0,553.5 602.2,541.9 602.5,547.0 602.7,547.4 603.0,547.6 603.2,546.2 603.4,543.3 603.7,546.7 603.9,557.1 604.2,561.2 604.4,547.5 604.6,546.1 604.9,545.8 605.1,561.0 605.4,562.1 605.6,548.7 605.8,548.2 606.1,557.2 606.3,561.7 606.6,555.4 606.8,545.6 607.0,549.7 607.3,554.7 607.5,546.8 607.7,548.4 608.0,551.8 608.2,554.2 608.5,545.6 608.7,557.3 608.9,561.0 609.2,559.4 609.4,559.6 609.7,549.7 609.9,551.3 610.1,546.2 610.4,549.4 610.6,551.6 610.9,560.9 611.1,544.4 611.3,542.5 611.6,542.8 611.8,559.8 612.1,565.8 612.3,560.3 612.5,549.9 612.8,546.9 613.0,557.5 613.3,548.4 613.5,546.3 613.7,561.8 614.0,547.1 614.2,561.6 614.5,559.2 614.7,562.7 614.9,550.7 615.2,556.3 615.4,556.0 615.6,548.7 615.9,554.3 616.1,540.8 616.4,559.5 616.6,537.9 616.8,542.9 617.1,553.8 617.3,547.3 617.6,541.2 617.8,549.2 618.0,555.0 618.3,559.8 618.5,559.9 618.8,556.7 619.0,558.4 619.2,548.0 619.5,548.7 619.7,553.3 620.0,547.4 620.2,561.3 620.4,544.6 620.7,553.8 620.9,539.0 621.2,555.6 621.4,544.2 621.6,561.8 621.9,541.1 622.1,546.0 622.4,541.9 622.6,548.2 622.8,542.4 623.1,546.0 623.3,535.6 623.5,552.1 623.8,551.3 624.0,545.3 624.3,547.0 624.5,551.3 624.7,545.4 625.0,556.6 625.2,551.7 625.5,559.2 625.7,557.0 625.9,539.7 626.2,549.6 626.4,553.8 626.7,551.0 626.9,560.3 627.1,544.9 627.4,550.2 627.6,546.3 627.9,542.0 628.1,541.5 628.3,540.7 628.6,545.9 628.8,549.2 629.1,557.7 629.3,544.3 629.5,543.2 629.8,558.9 630.0,543.4 630.3,540.6 630.5,560.2 630.7,541.9 631.0,546.2 631.2,558.1 631.4,550.8 631.7,550.4 631.9,545.0 632.2,553.0 632.4,550.6 632.6,549.5 632.9,559.6 633.1,547.6 633.4,559.7 633.6,558.4 633.8,547.1 634.1,560.6 634.3,555.3 634.6,559.5 634.8,539.1 635.0,562.4 635.3,561.7 635.5,548.7 635.8,552.2 636.0,554.3 636.2,546.0 636.5,543.0 636.7,560.1 637.0,559.1 637.2,550.1 637.4,555.0 637.7,544.3 637.9,552.9 638.2,537.7 638.4,547.2 638.6,552.7 638.9,550.9 639.1,554.3 639.3,545.8 639.6,539.4 639.8,558.0 640.1,542.7 640.3,553.5 640.5,546.2 640.8,534.7 641.0,551.0 641.3,540.9 641.5,541.2 641.7,555.0 642.0,561.1 642.2,553.7 642.5,542.4 642.7,550.5 642.9,556.8 643.2,561.3 643.4,547.3 643.7,546.7 643.9,549.9 644.1,541.5 644.4,552.5 644.6,561.8 644.9,550.0 645.1,552.6 645.3,560.2 645.6,545.4 645.8,546.4 646.1,546.8 646.3,555.8 646.5,552.8 646.8,543.5 647.0,563.7 647.2,546.0 647.5,550.2 647.7,560.8 648.0,548.6 648.2,561.1 648.4,554.4 648.7,553.3 648.9,561.5 649.2,548.1 649.4,542.5 649.6,547.1 649.9,558.9 650.1,546.2 650.4,548.8 650.6,546.4 650.8,543.6 651.1,543.6 651.3,551.2 651.6,558.3 651.8,545.1 652.0,546.5 652.3,560.1 652.5,550.9 652.8,547.5 653.0,549.4 653.2,557.6 653.5,560.4 653.7,540.1 654.0,549.6 654.2,540.5 654.4,560.6 654.7,554.6 654.9,532.7 655.1,553.5 655.4,549.7 655.6,561.8 655.9,565.4 656.1,555.7 656.3,559.8 656.6,541.9 656.8,546.9 657.1,549.7 657.3,539.2 657.5,561.3 657.8,542.6 658.0,558.5 658.3,544.5 658.5,557.4 658.7,547.4 659.0,548.5 659.2,552.7 659.5,551.5 659.7,543.7 659.9,548.8 660.2,554.9 660.4,558.9 660.7,559.9 660.9,548.5 661.1,547.5 661.4,547.7 661.6,552.0 661.9,548.1 662.1,556.1 662.3,564.9 662.6,546.8 662.8,557.8 663.0,553.7 663.3,555.2 663.5,544.6 663.8,555.2 664.0,546.7 664.2,532.5 664.5,555.4 664.7,557.4 665.0,561.5 665.2,546.1 665.4,543.9 665.7,537.8 665.9,559.0 666.2,546.7 666.4,549.1 666.6,542.3 666.9,550.4 667.1,559.6 667.4,560.8 667.6,559.1 667.8,546.9 668.1,546.8 668.3,547.5 668.6,553.9 668.8,549.5 669.0,551.1 669.3,554.6 669.5,548.7 669.8,559.5 670.0,558.0 670.2,544.5 670.5,554.5 670.7,545.9 670.9,562.9 671.2,543.4 671.4,537.2 671.7,561.9 671.9,554.1 672.1,552.9 672.4,553.4 672.6,547.5 672.9,544.2 673.1,559.7 673.3,551.4 673.6,548.0 673.8,557.8 674.1,551.8 674.3,553.5 674.5,552.4 674.8,560.8 675.0,560.7 675.3,559.5 675.5,543.4 675.7,558.2 676.0,535.2 676.2,547.6 676.5,550.4 676.7,544.7 676.9,552.9 677.2,539.5 677.4,548.4 677.7,556.1 677.9,549.4 678.1,553.0 678.4,558.6 678.6,557.5 678.8,552.8 679.1,547.3 679.3,545.4 679.6,542.9 679.8,542.0 680.0,536.0 680.3,559.5 680.5,547.6 680.8,543.7 681.0,550.5 681.2,550.4 681.5,551.3 681.7,552.4 682.0,555.2 682.2,557.9 682.4,557.6 682.7,546.5 682.9,557.8 683.2,536.9 683.4,539.0 683.6,542.4 683.9,549.9 684.1,558.2 684.4,556.7 684.6,547.7 684.8,539.2 685.1,557.8 685.3,542.6 685.6,553.3 685.8,548.1 686.0,556.7 686.3,552.5 686.5,545.9 686.7,551.3 687.0,551.8 687.2,537.3 687.5,549.2 687.7,541.7 687.9,551.6 688.2,545.5 688.4,545.9 688.7,558.3 688.9,556.2 689.1,543.8 689.4,560.8 689.6,552.4 689.9,560.5 690.1,550.7 690.3,546.1 690.6,553.8 690.8,561.7 691.1,542.6 691.3,546.9 691.5,561.6 691.8,559.2 692.0,548.5 692.3,554.0 692.5,563.4 692.7,560.0 693.0,538.1 693.2,552.4 693.5,558.7 693.7,561.8 693.9,548.7 694.2,548.3 694.4,546.9 694.6,560.1 694.9,542.7 695.1,553.9 695.4,546.0 695.6,544.6 695.8,550.4 696.1,559.1 696.3,554.3 696.6,544.5 696.8,544.2 697.0,560.5 697.3,556.5 697.5,541.7 697.8,557.7 698.0,558.6 698.2,553.4 698.5,558.8 698.7,548.1 699.0,549.9 699.2,561.6 699.4,535.8 699.7,549.9 699.9,542.9 700.2,542.8 700.4,551.8 700.6,553.8 700.9,539.6 701.1,550.9 701.4,549.0 701.6,552.4 701.8,548.3 702.1,552.3 702.3,560.2 702.5,537.4 702.8,550.9 703.0,556.7 703.3,548.5 703.5,557.3 703.7,548.3 704.0,557.0 704.2,563.1 704.5,546.7 704.7,554.9 704.9,550.4 705.2,561.6 705.4,552.8 705.7,540.1 705.9,544.6 706.1,556.7 706.4,558.3 706.6,543.9 706.9,549.1 707.1,561.2 707.3,546.5 707.6,561.5 707.8,559.8 708.1,544.2 708.3,552.5 708.5,554.5 708.8,556.4 709.0,547.4 709.3,553.4 709.5,545.2 709.7,550.3 710.0,542.6 710.2,561.3 710.4,547.0 710.7,560.1 710.9,555.1 711.2,546.5 711.4,535.3 711.6,556.0 711.9,557.4 712.1,546.9 712.4,546.1 712.6,552.7 712.8,548.4 713.1,558.0 713.3,550.5 713.6,543.7 713.8,539.5 714.0,549.8 714.3,560.2 714.5,546.2 714.8,542.5 715.0,546.0 715.2,553.1 715.5,546.8 715.7,543.3 716.0,559.9 716.2,558.6 716.4,545.9 716.7,546.7 716.9,543.3 717.2,548.3 717.4,552.5 717.6,561.1 717.9,557.4 718.1,554.2 718.3,551.9 718.6,551.5 718.8,557.7 719.1,550.4 719.3,548.9 719.5,552.0 719.8,540.1 720.0,547.0 720.3,550.6 720.5,543.8 720.7,548.0 721.0,551.0 721.2,539.4 721.5,544.0 721.7,549.5 721.9,541.3 722.2,543.3 722.4,546.8 722.7,553.5 722.9,563.9 723.1,546.5 723.4,542.9 723.6,546.5 723.9,558.4 724.1,556.7 724.3,558.1 724.6,538.0 724.8,546.6 725.1,542.1 725.3,536.5 725.5,556.1 725.8,545.6 726.0,549.7 726.3,536.3 726.5,541.2 726.7,545.0 727.0,551.5 727.2,552.0 727.4,535.8 727.7,543.0 727.9,543.5 728.2,551.5 728.4,547.9 728.6,540.5 728.9,547.1 729.1,545.2 729.4,539.4 729.6,549.6 729.8,541.5 730.1,542.5 730.3,540.1 730.6,530.3 730.8,547.0 731.0,556.7 731.3,552.6 731.5,536.3 731.8,535.3 732.0,553.8 732.2,537.4 732.5,539.7 732.7,544.9 733.0,541.9 733.2,540.2 733.4,558.6 733.7,558.1 733.9,559.7 734.2,546.4 734.4,547.6 734.6,540.1 734.9,542.2 735.1,559.1 735.3,548.9 735.6,546.2 735.8,555.6 736.1,542.9 736.3,548.3 736.5,548.3 736.8,562.1 737.0,554.1 737.3,547.8 737.5,557.6 737.7,538.5 738.0,551.3 738.2,561.2 738.5,560.2 738.7,542.4 738.9,547.0 739.2,545.9 739.4,547.7 739.7,558.5 739.9,553.1 740.1,553.0 740.4,546.2 740.6,547.9 740.9,539.4 741.1,552.9 741.3,551.4 741.6,554.4 741.8,540.8 742.1,543.3 742.3,544.3 742.5,540.5 742.8,549.4 743.0,544.6 743.2,560.7 743.5,559.8 743.7,552.1 744.0,557.7 744.2,560.5 744.4,553.0 744.7,543.3 744.9,546.6 745.2,551.6 745.4,551.5 745.6,557.0 745.9,549.7 746.1,561.4 746.4,552.7 746.6,546.3 746.8,551.7 747.1,544.1 747.3,546.2 747.6,548.5 747.8,558.7 748.0,551.5 748.3,560.4 748.5,550.0 748.8,545.1 749.0,551.4 749.2,559.2 749.5,558.2 749.7,546.8 750.0,551.9 750.2,546.5 750.4,544.6 750.7,557.2 750.9,543.3 751.1,546.5 751.4,560.6 751.6,541.3 751.9,552.0 752.1,553.4 752.3,556.2 752.6,551.4 752.8,545.6 753.1,542.5 753.3,547.8 753.5,557.4 753.8,552.8 754.0,543.5 754.3,550.1 754.5,553.2 754.7,549.1 755.0,549.3 755.2,547.2 755.5,545.0 755.7,555.2 755.9,550.2 756.2,550.0 756.4,561.7 756.7,559.1 756.9,549.9 757.1,556.2 757.4,549.2 757.6,557.7 757.9,539.1 758.1,549.0 758.3,551.3 758.6,543.2 758.8,549.7 759.0,545.2 759.3,553.7 759.5,561.1 759.8,563.1 760.0,538.6 760.2,548.7 760.5,535.9 760.7,558.7 761.0,555.8 761.2,559.5 761.4,560.3 761.7,549.4 761.9,551.6 762.2,549.0 762.4,543.1 762.6,543.3 762.9,547.1 763.1,557.7 763.4,547.9 763.6,547.9 763.8,549.3 764.1,560.5 764.3,558.9 764.6,556.0 764.8,544.1 765.0,561.2 765.3,547.5 765.5,556.6 765.8,561.5 766.0,550.4 766.2,565.4 766.5,549.8 766.7,545.2 766.9,546.4 767.2,541.6 767.4,545.1 767.7,547.9 767.9,559.7 768.1,559.7 768.4,547.6 768.6,552.2 768.9,554.4 769.1,558.5 769.3,545.9 769.6,559.3 769.8,559.6 770.1,546.2 770.3,547.1 770.5,544.5 770.8,559.2 771.0,548.4 771.3,556.1 771.5,544.9 771.7,549.1 772.0,547.1 772.2,544.9 772.5,555.4 772.7,542.5 772.9,541.5 773.2,546.3 773.4,561.4 773.7,552.1 773.9,543.4 774.1,547.0 774.4,554.1 774.6,548.9 774.8,550.1 775.1,559.8 775.3,563.8 775.6,542.4 775.8,550.2 776.0,547.6 776.3,546.1 776.5,547.7 776.8,541.7 777.0,543.6 777.2,547.7 777.5,558.6 777.7,553.4 778.0,548.3 778.2,555.3 778.4,554.6 778.7,559.6 778.9,555.8 779.2,537.0 779.4,555.1 779.6,558.2 779.9,553.3 780.1,544.6 780.4,558.4 780.6,545.8 780.8,546.7 781.1,548.2 781.3,542.5 781.6,558.2 781.8,555.3 782.0,539.8 782.3,544.1 782.5,544.6 782.7,531.9 783.0,556.9 783.2,547.8 783.5,554.0 783.7,545.5 783.9,544.9 784.2,524.2 784.4,541.6 784.7,556.1 784.9,555.6 785.1,546.1 785.4,551.4 785.6,534.4 785.9,542.9 786.1,542.8 786.3,541.3 786.6,552.8 786.8,557.0 787.1,558.9 787.3,556.5 787.5,550.3 787.8,546.2 788.0,546.2 788.3,547.3 788.5,542.1 788.7,545.6 789.0,545.4 789.2,547.6 789.5,543.6 789.7,561.1 789.9,556.1 790.2,545.7 790.4,551.1 790.6,558.6 790.9,544.0 791.1,551.6 791.4,557.2 791.6,551.8 791.8,547.7 792.1,532.6 792.3,560.2 792.6,560.0 792.8,560.2 793.0,543.0 793.3,550.5 793.5,562.4 793.8,557.7 794.0,554.4 794.2,548.9 794.5,556.3 794.7,554.7 795.0,551.4 795.2,558.6 795.4,543.8 795.7,552.0 795.9,545.8 796.2,559.7 796.4,548.0 796.6,560.6 796.9,545.1 797.1,553.0 797.4,560.1 797.6,547.4 797.8,558.4 798.1,548.0 798.3,561.1 798.5,559.1 798.8,544.4 799.0,547.5 799.3,541.7 799.5,561.0 799.7,537.1 800.0,549.9 800.2,548.6 800.5,547.9 800.7,535.9 800.9,545.8 801.2,550.4 801.4,559.2 801.7,541.1 801.9,540.4 802.1,549.7 802.4,550.3 802.6,555.0 802.9,560.3 803.1,549.6 803.3,546.6 803.6,562.6 803.8,543.0 804.1,545.1 804.3,559.7 804.5,545.1 804.8,561.8 805.0,559.4 805.3,547.4 805.5,547.2 805.7,551.4 806.0,552.0 806.2,552.5 806.4,550.2 806.7,556.2 806.9,548.2 807.2,557.1 807.4,548.3 807.6,559.0 807.9,554.5 808.1,559.3 808.4,537.8 808.6,541.2 808.8,556.4 809.1,541.5 809.3,547.5 809.6,549.0 809.8,548.4 810.0,548.7 810.3,540.9 810.5,545.6 810.8,551.0 811.0,552.5 811.2,559.0 811.5,545.4 811.7,538.2 812.0,554.7 812.2,548.7 812.4,550.9 812.7,552.9 812.9,546.4 813.2,558.3 813.4,542.7 813.6,554.5 813.9,542.0 814.1,546.9 814.3,545.8 814.6,551.5 814.8,550.8 815.1,546.1 815.3,551.5 815.5,549.5 815.8,557.9 816.0,543.6 816.3,554.5 816.5,542.7 816.7,544.7 817.0,553.5 817.2,548.6 817.5,548.9 817.7,545.1 817.9,544.9 818.2,556.3 818.4,528.0 818.7,542.9 818.9,548.1 819.1,546.3 819.4,546.8 819.6,540.1 819.9,555.5 820.1,542.6 820.3,562.4 820.6,544.6 820.8,541.2 821.1,549.2 821.3,548.5 821.5,550.2 821.8,550.3 822.0,548.4 822.2,554.6 822.5,554.1 822.7,545.0 823.0,543.9 823.2,551.9 823.4,562.3 823.7,561.7 823.9,542.5 824.2,546.7 824.4,558.2 824.6,551.9 824.9,547.3 825.1,550.5 825.4,539.7 825.6,547.9 825.8,548.5 826.1,561.6 826.3,553.7 826.6,553.0 826.8,547.0 827.0,550.0 827.3,550.1 827.5,546.7 827.8,557.5 828.0,558.3 828.2,549.5 828.5,561.8 828.7,548.3 829.0,540.0 829.2,551.2 829.4,547.8 829.7,549.9 829.9,545.6 830.1,546.3 830.4,552.1 830.6,548.8 830.9,559.6 831.1,541.1 831.3,541.9 831.6,542.1 831.8,548.6 832.1,548.6 832.3,541.2 832.5,557.2 832.8,546.4 833.0,556.2 833.3,547.8 833.5,558.1 833.7,558.7 834.0,542.0 834.2,547.9 834.5,547.1 834.7,546.4 834.9,548.9 835.2,536.8 835.4,541.6 835.7,543.6 835.9,552.0 836.1,547.3 836.4,546.5 836.6,546.5 836.9,548.1 837.1,544.1 837.3,544.1 837.6,545.9 837.8,554.6 838.0,547.6 838.3,544.2 838.5,556.1 838.8,542.8 839.0,555.0 839.2,550.2 839.5,544.9 839.7,545.4 840.0,546.1 840.2,558.4 840.4,551.4 840.7,544.3 840.9,545.6 841.2,556.6 841.4,547.1 841.6,540.6 841.9,551.4 842.1,546.6 842.4,556.1 842.6,547.2 842.8,554.4 843.1,555.2 843.3,550.1 843.6,535.2 843.8,551.8 844.0,560.0 844.3,545.9 844.5,547.2 844.8,539.3 845.0,549.1 845.2,557.4 845.5,559.0 845.7,546.5 846.0,546.6 846.2,542.6 846.4,556.9 846.7,553.2 846.9,558.7 847.1,549.4 847.4,546.2 847.6,551.0 847.9,554.3 848.1,543.8 848.3,543.4 848.6,533.6 848.8,549.7 849.1,550.6 849.3,555.4 849.5,561.3 849.8,560.0 850.0,561.9 850.3,547.5 850.5,551.7 850.7,549.0 851.0,551.2 851.2,545.0 851.5,549.1 851.7,548.9 851.9,540.5 852.2,546.9 852.4,547.8 852.7,548.8 852.9,548.3 853.1,545.5 853.4,564.3 853.6,542.3 853.9,560.8 854.1,560.3 854.3,557.4 854.6,557.5 854.8,548.6 855.0,547.8 855.3,544.1 855.5,557.3 855.8,550.3 856.0,560.7 856.2,552.4 856.5,559.3 856.7,543.6 857.0,556.0 857.2,562.5 857.4,551.8 857.7,553.9 857.9,545.6 858.2,557.3 858.4,546.4 858.6,550.8 858.9,558.2 859.1,552.7 859.4,545.8 859.6,550.2 859.8,557.2 860.1,557.9 860.3,546.2 860.6,547.8 860.8,553.8 861.0,549.2 861.3,545.0 861.5,538.5 861.8,553.6 862.0,545.2 862.2,536.9 862.5,559.8 862.7,540.5 862.9,563.0 863.2,540.6 863.4,548.7 863.7,559.1 863.9,544.3 864.1,542.8 864.4,559.7 864.6,542.0 864.9,548.8 865.1,552.8 865.3,551.2 865.6,548.9 865.8,546.4 866.1,551.3 866.3,548.4 866.5,543.8 866.8,546.9 867.0,536.0 867.3,536.7 867.5,547.9 867.7,551.8 868.0,555.9 868.2,556.9 868.5,545.6 868.7,559.1 868.9,554.5 869.2,550.2 869.4,559.7 869.7,550.6 869.9,550.6 870.1,543.6 870.4,546.0 870.6,537.5 870.8,543.4 871.1,554.3 871.3,558.7 871.6,559.8 871.8,543.0 872.0,560.1 872.3,554.5 872.5,541.2 872.8,555.1 873.0,559.5 873.2,547.5 873.5,553.5 873.7,554.9 874.0,550.4 874.2,548.8 874.4,552.6 874.7,545.5 874.9,548.2 875.2,548.7 875.4,548.7 875.6,559.1 875.9,546.9 876.1,555.7 876.4,562.5 876.6,552.1 876.8,549.9 877.1,543.6 877.3,551.4 877.6,554.1 877.8,540.7 878.0,542.6 878.3,541.3 878.5,546.7 878.7,551.8 879.0,545.1 879.2,557.9 879.5,560.0 879.7,560.0 879.9,561.3 880.2,544.9 880.4,563.8 880.7,558.9 880.9,549.6 881.1,551.3 881.4,541.5 881.6,544.3 881.9,544.5 882.1,560.3 882.3,550.3 882.6,556.5 882.8,543.6 883.1,540.8 883.3,545.5 883.5,549.0 883.8,544.7 884.0,541.9 884.3,561.0 884.5,553.9 884.7,552.8 885.0,558.0 885.2,544.1 885.5,539.8 885.7,542.1 885.9,559.0 886.2,561.7 886.4,560.8 886.6,558.1 886.9,544.5 887.1,556.6 887.4,550.0 887.6,549.3 887.8,543.7 888.1,547.1 888.3,547.1 888.6,551.1 888.8,548.6 889.0,549.4 889.3,544.6 889.5,549.7 889.8,542.9 890.0,558.1 890.2,542.0 890.5,549.6 890.7,561.6 891.0,548.2 891.2,548.0 891.4,540.4 891.7,551.8 891.9,548.2 892.2,549.6 892.4,547.5 892.6,557.7 892.9,549.6 893.1,550.6 893.4,559.5 893.6,549.8 893.8,557.3 894.1,540.9 894.3,559.2 894.5,548.2 894.8,548.2 895.0,555.2 895.3,547.1 895.5,558.0 895.7,547.4 896.0,552.6 896.2,550.5 896.5,547.3 896.7,548.4 896.9,538.3 897.2,561.8 897.4,558.1 897.7,543.2 897.9,556.1 898.1,548.2 898.4,555.6 898.6,553.3 898.9,560.2 899.1,551.8 899.3,558.2 899.6,552.2 899.8,550.4 900.1,540.7 900.3,555.3 900.5,555.6 900.8,557.7 901.0,557.6 901.3,550.7 901.5,542.4 901.7,548.7 902.0,552.9 902.2,552.7 902.4,553.8 902.7,552.0 902.9,559.4 903.2,541.8 903.4,543.4 903.6,551.9 903.9,552.8 904.1,557.7 904.4,558.8 904.6,551.2 904.8,550.6 905.1,554.9 905.3,554.3 905.6,546.8 905.8,558.0 906.0,553.9 906.3,561.8 906.5,548.3 906.8,556.4 907.0,559.5 907.2,558.7 907.5,550.3 907.7,561.0 908.0,557.7 908.2,554.3 908.4,542.4 908.7,547.7 908.9,561.0 909.2,543.3 909.4,552.8 909.6,545.4 909.9,562.7 910.1,553.8 910.3,557.7 910.6,551.1 910.8,545.3 911.1,553.8 911.3,546.6 911.5,541.2 911.8,545.7 912.0,552.2 912.3,560.0 912.5,557.7 912.7,555.4 913.0,555.0 913.2,548.7 913.5,545.9 913.7,558.7 913.9,549.3 914.2,546.1 914.4,548.3 914.7,542.8 914.9,543.2 915.1,555.7 915.4,536.4 915.6,547.0 915.9,560.3 916.1,547.5 916.3,547.2 916.6,547.7 916.8,553.2 917.1,550.7 917.3,557.9 917.5,548.3 917.8,546.0 918.0,552.7 918.2,561.1 918.5,554.0 918.7,549.1 919.0,548.7 919.2,552.2 919.4,548.6 919.7,556.3 919.9,545.0 920.2,558.2 920.4,541.2 920.6,556.8 920.9,552.7 921.1,547.4 921.4,543.8 921.6,545.5 921.8,549.5 922.1,549.3 922.3,546.8 922.6,556.6 922.8,561.7 923.0,542.4 923.3,545.6 923.5,543.6 923.8,537.6 924.0,543.4 924.2,554.8 924.5,546.9 924.7,532.8 925.0,554.6 925.2,545.0 925.4,551.5 925.7,560.1 925.9,558.0 926.1,559.1 926.4,545.8 926.6,549.2 926.9,546.8 927.1,559.9 927.3,541.3 927.6,558.7 927.8,557.2 928.1,550.5 928.3,559.0 928.5,545.9 928.8,551.4 929.0,547.8 929.3,548.4 929.5,545.7 929.7,557.8 930.0,554.0 930.2,545.4 930.5,550.2 930.7,547.0 930.9,538.1 931.2,550.6 931.4,547.5 931.7,558.8 931.9,552.2 932.1,557.7 932.4,556.6 932.6,550.6 932.9,541.1 933.1,549.1 933.3,542.3 933.6,547.8 933.8,547.6 934.0,544.7 934.3,544.4 934.5,554.9 934.8,560.2 935.0,553.5 935.2,547.1 935.5,560.4 935.7,545.9 936.0,558.1 936.2,549.9 936.4,558.2 936.7,559.3 936.9,545.6 937.2,559.9 937.4,557.7 937.6,546.1 937.9,556.3 938.1,552.3 938.4,544.1 938.6,551.0 938.8,552.4 939.1,560.0 939.3,559.2 939.6,549.5 939.8,546.6 940.0,548.4 940.3,537.2 940.5,549.7 940.8,559.9 941.0,545.3 941.2,547.2 941.5,546.3 941.7,555.9 941.9,540.9 942.2,559.7 942.4,547.2 942.7,555.6 942.9,544.3 943.1,556.5 943.4,539.4 943.6,557.0 943.9,546.2 944.1,558.1 944.3,551.6 944.6,545.7 944.8,552.5 945.1,547.2 945.3,551.7 945.5,546.7 945.8,549.3 946.0,550.8 946.3,546.7 946.5,549.5 946.7,545.5 947.0,547.8 947.2,558.5 947.5,546.6 947.7,538.6 947.9,557.1 948.2,542.9 948.4,543.6 948.7,548.6 948.9,543.9 949.1,555.8 949.4,540.2 949.6,542.9 949.8,550.8 950.1,543.7 950.3,546.0 950.6,544.3 950.8,545.7 951.0,544.0 951.3,546.7 951.5,549.1 951.8,542.6 952.0,547.4 952.2,558.7 952.5,545.6 952.7,557.9 953.0,554.6 953.2,557.2 953.4,555.1 953.7,537.9 953.9,556.0 954.2,546.5 954.4,558.1 954.6,549.4 954.9,544.4 955.1,554.4 955.4,541.9 955.6,550.7 955.8,556.6 956.1,536.9 956.3,558.5 956.6,542.6 956.8,536.1 957.0,536.1 957.3,542.2 957.5,538.9 957.7,536.0"/>
<polyline stroke="#ED7D31" stroke-width="2.2" points="60.0,303.9 60.2,302.1 60.5,301.6 60.7,313.6 61.0,350.0 61.2,340.0 61.4,315.9 61.7,287.0 61.9,303.2 62.2,333.0 62.4,285.8 62.6,342.3 62.9,276.0 63.1,309.5 63.4,303.7 63.6,315.9 63.8,308.3 64.1,302.0 64.3,292.1 64.5,315.4 64.8,306.4 65.0,327.2 65.3,318.1 65.5,310.8 65.7,340.7 66.0,319.3 66.2,295.2 66.5,313.1 66.7,319.8 66.9,323.4 67.2,307.4 67.4,310.6 67.7,305.7 67.9,310.7 68.1,308.1 68.4,310.7 68.6,313.9 68.9,342.9 69.1,314.2 69.3,319.7 69.6,279.0 69.8,301.5 70.1,332.4 70.3,304.1 70.5,317.9 70.8,315.9 71.0,311.8 71.3,315.2 71.5,310.6 71.7,292.3 72.0,304.7 72.2,324.0 72.4,275.6 72.7,305.4 72.9,300.4 73.2,327.1 73.4,292.8 73.6,302.3 73.9,315.5 74.1,303.5 74.4,313.1 74.6,311.6 74.8,297.6 75.1,343.6 75.3,310.0 75.6,296.7 75.8,309.6 76.0,312.7 76.3,324.2 76.5,319.1 76.8,316.1 77.0,277.4 77.2,312.8 77.5,314.9 77.7,294.7 78.0,288.1 78.2,315.5 78.4,307.5 78.7,337.2 78.9,310.5 79.2,323.5 79.4,328.5 79.6,307.7 79.9,337.9 80.1,319.5 80.3,305.6 80.6,313.2 80.8,306.4 81.1,308.5 81.3,312.1 81.5,309.8 81.8,339.0 82.0,318.6 82.3,294.0 82.5,307.7 82.7,320.3 83.0,307.8 83.2,308.4 83.5,302.6 83.7,309.3 83.9,311.7 84.2,309.9 84.4,308.6 84.7,313.3 84.9,300.9 85.1,327.4 85.4,317.6 85.6,312.2 85.9,304.6 86.1,300.9 86.3,282.3 86.6,306.7 86.8,288.7 87.1,313.6 87.3,318.2 87.5,309.5 87.8,325.1 88.0,315.6 88.2,315.4 88.5,311.3 88.7,315.7 89.0,322.6 89.2,316.4 89.4,310.4 89.7,317.3 89.9,320.5 90.2,300.2 90.4,315.7 90.6,318.1 90.9,327.0 91.1,313.6 91.4,316.8 91.6,305.4 91.8,320.4 92.1,314.6 92.3,308.3 92.6,330.0 92.8,299.1 93.0,309.6 93.3,315.7 93.5,321.3 93.8,322.2 94.0,312.8 94.2,326.4 94.5,291.7 94.7,317.3 95.0,312.2 95.2,315.9 95.4,334.7 95.7,293.9 95.9,316.4 96.1,304.0 96.4,309.2 96.6,304.1 96.9,322.6 97.1,315.2 97.3,307.7 97.6,297.0 97.8,319.8 98.1,318.5 98.3,318.7 98.5,311.6 98.8,318.7 99.0,316.6 99.3,306.2 99.5,316.8 99.7,303.4 100.0,303.6 100.2,316.7 100.5,321.3 100.7,301.8 100.9,315.3 101.2,308.3 101.4,330.6 101.7,316.7 101.9,334.3 102.1,320.6 102.4,317.9 102.6,320.0 102.9,321.9 103.1,316.3 103.3,311.1 103.6,342.0 103.8,308.3 104.0,328.7 104.3,333.9 104.5,294.7 104.8,319.7 105.0,316.3 105.2,322.0 105.5,326.5 105.7,324.5 106.0,313.6 106.2,311.6 106.4,314.8 106.7,318.6 106.9,312.5 107.2,301.2 107.4,319.1 107.6,312.9 107.9,298.9 108.1,326.0 108.4,314.6 108.6,308.6 108.8,325.9 109.1,319.2 109.3,309.2 109.6,303.7 109.8,322.2 110.0,320.7 110.3,318.8 110.5,325.5 110.8,321.4 111.0,321.9 111.2,326.9 111.5,309.2 111.7,321.3 111.9,306.3 112.2,294.4 112.4,319.2 112.7,305.8 112.9,314.2 113.1,322.7 113.4,318.7 113.6,316.4 113.9,308.4 114.1,322.7 114.3,309.9 114.6,321.6 114.8,309.3 115.1,311.4 115.3,314.6 115.5,321.9 115.8,315.1 116.0,316.7 116.3,320.5 116.5,317.2 116.7,314.9 117.0,316.4 117.2,316.1 117.5,320.9 117.7,324.8 117.9,321.0 118.2,320.5 118.4,309.5 118.7,312.3 118.9,310.9 119.1,313.1 119.4,322.2 119.6,313.3 119.8,311.4 120.1,313.3 120.3,324.2 120.6,322.1 120.8,313.1 121.0,318.9 121.3,318.7 121.5,319.7 121.8,312.3 122.0,325.2 122.2,324.8 122.5,308.0 122.7,318.0 123.0,317.6 123.2,319.4 123.4,320.0 123.7,321.1 123.9,318.7 124.2,313.3 124.4,332.5 124.6,307.3 124.9,324.5 125.1,319.3 125.4,313.4 125.6,326.4 125.8,317.2 126.1,317.9 126.3,318.6 126.6,315.6 126.8,326.5 127.0,323.7 127.3,309.9 127.5,306.9 127.8,326.7 128.0,317.0 128.2,328.0 128.5,308.4 128.7,316.7 128.9,316.7 129.2,319.5 129.4,317.4 129.7,318.6 129.9,313.7 130.1,313.5 130.4,312.6 130.6,309.4 130.9,323.2 131.1,324.0 131.3,316.7 131.6,322.1 131.8,318.3 132.1,330.8 132.3,316.5 132.5,312.5 132.8,328.8 133.0,316.9 133.3,321.6 133.5,318.0 133.7,315.4 134.0,327.9 134.2,322.8 134.5,314.7 134.7,340.7 134.9,323.7 135.2,318.2 135.4,298.4 135.7,320.0 135.9,326.0 136.1,321.1 136.4,322.6 136.6,324.1 136.8,316.1 137.1,325.0 137.3,314.3 137.6,300.8 137.8,333.0 138.0,339.3 138.3,325.1 138.5,322.4 138.8,334.1 139.0,320.8 139.2,323.1 139.5,313.1 139.7,306.9 140.0,318.3 140.2,319.9 140.4,323.0 140.7,329.7 140.9,315.9 141.2,319.1 141.4,318.6 141.6,306.9 141.9,318.9 142.1,325.3 142.4,312.2 142.6,312.9 142.8,319.5 143.1,318.6 143.3,315.8 143.6,319.8 143.8,319.9 144.0,316.7 144.3,323.5 144.5,318.7 144.7,321.4 145.0,322.2 145.2,308.6 145.5,315.7 145.7,329.5 145.9,327.9 146.2,325.3 146.4,318.5 146.7,323.6 146.9,313.2 147.1,313.8 147.4,320.6 147.6,320.2 147.9,316.8 148.1,319.0 148.3,317.5 148.6,323.7 148.8,314.1 149.1,317.5 149.3,320.1 149.5,319.9 149.8,326.3 150.0,323.8 150.3,312.1 150.5,317.0 150.7,320.7 151.0,313.1 151.2,311.5 151.5,323.9 151.7,325.2 151.9,319.1 152.2,312.6 152.4,315.3 152.6,328.7 152.9,318.9 153.1,322.8 153.4,323.3 153.6,311.3 153.8,315.5 154.1,323.3 154.3,317.0 154.6,313.1 154.8,337.6 155.0,318.5 155.3,317.3 155.5,320.7 155.8,311.4 156.0,318.2 156.2,299.4 156.5,321.4 156.7,319.3 157.0,320.2 157.2,312.9 157.4,327.0 157.7,320.2 157.9,318.2 158.2,317.7 158.4,310.6 158.6,309.1 158.9,310.9 159.1,320.6 159.4,321.2 159.6,317.0 159.8,325.6 160.1,322.0 160.3,299.1 160.5,320.1 160.8,310.4 161.0,325.2 161.3,318.8 161.5,328.5 161.7,317.3 162.0,310.5 162.2,331.2 162.5,314.7 162.7,305.0 162.9,330.0 163.2,320.3 163.4,324.6 163.7,303.9 163.9,322.7 164.1,325.7 164.4,331.2 164.6,316.5 164.9,323.0 165.1,321.7 165.3,312.7 165.6,322.2 165.8,313.4 166.1,325.6 166.3,316.9 166.5,320.5 166.8,321.0 167.0,310.6 167.3,318.3 167.5,320.2 167.7,316.7 168.0,322.3 168.2,320.5 168.4,312.4 168.7,308.3 168.9,318.0 169.2,321.1 169.4,315.9 169.6,319.8 169.9,317.5 170.1,327.0 170.4,303.5 170.6,314.9 170.8,336.5 171.1,321.1 171.3,317.8 171.6,326.7 171.8,308.7 172.0,336.5 172.3,315.1 172.5,325.0 172.8,320.4 173.0,313.4 173.2,310.6 173.5,318.2 173.7,319.5 174.0,313.5 174.2,324.0 174.4,312.8 174.7,323.3 174.9,328.1 175.2,313.0 175.4,319.6 175.6,323.0 175.9,320.2 176.1,326.3 176.3,313.3 176.6,327.6 176.8,319.6 177.1,321.1 177.3,317.3 177.5,320.3 177.8,322.2 178.0,316.6 178.3,318.2 178.5,322.4 178.7,321.5 179.0,311.9 179.2,320.4 179.5,304.6 179.7,318.0 179.9,320.9 180.2,321.6 180.4,320.3 180.7,310.0 180.9,317.7 181.1,308.4 181.4,323.9 181.6,319.5 181.9,316.9 182.1,312.7 182.3,321.6 182.6,320.4 182.8,316.5 183.1,319.9 183.3,314.3 183.5,328.0 183.8,319.6 184.0,324.9 184.2,320.5 184.5,328.9 184.7,315.6 185.0,319.5 185.2,319.4 185.4,328.5 185.7,330.0 185.9,320.0 186.2,318.2 186.4,325.9 186.6,312.1 186.9,327.4 187.1,322.4 187.4,319.4 187.6,321.9 187.8,320.2 188.1,325.5 188.3,324.5 188.6,317.8 188.8,307.5 189.0,314.6 189.3,320.9 189.5,323.3 189.8,318.6 190.0,316.8 190.2,323.1 190.5,323.4 190.7,320.9 191.0,318.5 191.2,319.3 191.4,321.0 191.7,316.3 191.9,322.0 192.1,317.3 192.4,336.0 192.6,322.0 192.9,323.6 193.1,319.6 193.3,315.6 193.6,316.3 193.8,318.5 194.1,318.1 194.3,307.1 194.5,325.2 194.8,322.2 195.0,325.7 195.3,328.4 195.5,327.5 195.7,325.6 196.0,320.1 196.2,319.4 196.5,314.0 196.7,319.9 196.9,320.5 197.2,311.0 197.4,317.6 197.7,326.9 197.9,320.6 198.1,317.1 198.4,323.0 198.6,327.1 198.9,310.7 199.1,337.6 199.3,332.8 199.6,314.2 199.8,309.2 200.0,314.8 200.3,312.8 200.5,318.1 200.8,321.6 201.0,330.3 201.2,316.0 201.5,321.6 201.7,336.8 202.0,315.4 202.2,314.6 202.4,323.0 202.7,313.4 202.9,318.2 203.2,317.0 203.4,314.7 203.6,314.7 203.9,328.8 204.1,314.9 204.4,316.3 204.6,328.7 204.8,317.7 205.1,316.0 205.3,313.8 205.6,302.3 205.8,322.0 206.0,319.5 206.3,307.8 206.5,316.7 206.8,323.0 207.0,317.5 207.2,309.0 207.5,311.8 207.7,314.5 207.9,317.4 208.2,313.8 208.4,315.9 208.7,311.7 208.9,318.0 209.1,336.2 209.4,326.8 209.6,305.8 209.9,324.8 210.1,318.3 210.3,317.2 210.6,308.6 210.8,315.3 211.1,326.6 211.3,318.6 211.5,313.2 211.8,310.8 212.0,317.3 212.3,324.3 212.5,319.5 212.7,324.8 213.0,317.4 213.2,315.8 213.5,316.7 213.7,313.7 213.9,299.5 214.2,311.5 214.4,325.7 214.7,305.1 214.9,331.6 215.1,319.5 215.4,319.8 215.6,316.7 215.8,316.8 216.1,312.8 216.3,314.7 216.6,315.1 216.8,334.1 217.0,332.9 217.3,307.9 217.5,316.3 217.8,315.3 218.0,307.0 218.2,326.9 218.5,306.8 218.7,304.4 219.0,320.9 219.2,315.4 219.4,320.1 219.7,323.3 219.9,308.6 220.2,318.5 220.4,308.9 220.6,314.2 220.9,312.5 221.1,321.6 221.4,313.0 221.6,310.5 221.8,320.6 222.1,321.5 222.3,309.6 222.6,324.1 222.8,301.8 223.0,328.2 223.3,323.1 223.5,316.3 223.7,302.1 224.0,309.9 224.2,321.2 224.5,314.4 224.7,319.7 224.9,316.8 225.2,302.8 225.4,311.5 225.7,313.4 225.9,311.9 226.1,314.9 226.4,314.5 226.6,307.9 226.9,317.3 227.1,313.7 227.3,296.4 227.6,311.3 227.8,315.9 228.1,311.7 228.3,307.4 228.5,312.3 228.8,309.5 229.0,315.3 229.3,314.9 229.5,312.2 229.7,314.3 230.0,323.1 230.2,318.9 230.5,319.2 230.7,313.3 230.9,320.3 231.2,319.2 231.4,291.2 231.6,319.1 231.9,313.3 232.1,305.2 232.4,302.3 232.6,309.7 232.8,309.4 233.1,310.2 233.3,317.2 233.6,314.8 233.8,305.5 234.0,305.0 234.3,304.2 234.5,304.8 234.8,315.7 235.0,319.8 235.2,315.4 235.5,301.7 235.7,308.5 236.0,316.7 236.2,315.6 236.4,317.1 236.7,317.5 236.9,320.0 237.2,327.0 237.4,310.2 237.6,323.3 237.9,319.3 238.1,315.6 238.4,322.0 238.6,311.5 238.8,313.6 239.1,321.8 239.3,323.8 239.5,310.3 239.8,315.8 240.0,316.4 240.3,328.7 240.5,326.8 240.7,317.6 241.0,316.1 241.2,332.9 241.5,306.6 241.7,318.7 241.9,312.4 242.2,308.8 242.4,316.6 242.7,317.8 242.9,322.2 243.1,328.8 243.4,317.1 243.6,310.3 243.9,315.4 244.1,309.4 244.3,326.1 244.6,321.2 244.8,328.2 245.1,318.8 245.3,314.3 245.5,323.8 245.8,325.7 246.0,320.6 246.3,327.0 246.5,328.3 246.7,328.6 247.0,317.2 247.2,311.0 247.5,322.2 247.7,303.0 247.9,324.9 248.2,314.0 248.4,311.3 248.6,326.7 248.9,327.2 249.1,329.4 249.4,326.3 249.6,312.3 249.8,321.9 250.1,325.2 250.3,320.1 250.6,312.0 250.8,329.1 251.0,322.5 251.3,329.1 251.5,305.7 251.8,308.0 252.0,313.1 252.2,320.9 252.5,315.7 252.7,320.8 253.0,318.3 253.2,314.1 253.4,328.9 253.7,324.8 253.9,333.8 254.2,316.4 254.4,315.6 254.6,321.1 254.9,318.8 255.1,315.8 255.4,321.1 255.6,322.9 255.8,326.4 256.1,325.9 256.3,323.6 256.5,306.2 256.8,315.0 257.0,321.7 257.3,314.6 257.5,317.2 257.7,318.7 258.0,326.6 258.2,323.6 258.5,321.8 258.7,324.8 258.9,328.0 259.2,322.3 259.4,314.3 259.7,316.4 259.9,324.3 260.1,317.4 260.4,342.0 260.6,317.5 260.9,313.9 261.1,322.7 261.3,320.4 261.6,319.1 261.8,313.9 262.1,319.0 262.3,318.8 262.5,323.5 262.8,320.3 263.0,328.9 263.3,313.6 263.5,322.6 263.7,332.3 264.0,328.0 264.2,323.0 264.4,327.7 264.7,325.4 264.9,327.1 265.2,314.0 265.4,330.8 265.6,319.3 265.9,317.4 266.1,311.5 266.4,321.6 266.6,319.6 266.8,313.3 267.1,321.5 267.3,313.7 267.6,325.5 267.8,320.8 268.0,321.8 268.3,315.2 268.5,318.0 268.8,307.2 269.0,325.6 269.2,323.2 269.5,319.5 269.7,317.3 270.0,311.6 270.2,325.2 270.4,314.9 270.7,331.3 270.9,321.3 271.2,329.5 271.4,321.3 271.6,329.2 271.9,319.3 272.1,321.7 272.3,324.1 272.6,326.5 272.8,322.7 273.1,312.1 273.3,318.9 273.5,335.1 273.8,315.5 274.0,324.1 274.3,323.8 274.5,307.2 274.7,315.8 275.0,305.0 275.2,311.0 275.5,315.8 275.7,317.8 275.9,305.3 276.2,338.4 276.4,324.5 276.7,314.4 276.9,319.2 277.1,334.0 277.4,324.3 277.6,319.1 277.9,321.5 278.1,330.0 278.3,312.6 278.6,328.0 278.8,321.4 279.1,331.8 279.3,318.9 279.5,321.1 279.8,321.0 280.0,325.6 280.2,317.7 280.5,320.7 280.7,320.9 281.0,317.2 281.2,307.2 281.4,335.3 281.7,320.7 281.9,322.7 282.2,320.0 282.4,326.6 282.6,325.5 282.9,314.9 283.1,316.4 283.4,317.6 283.6,320.8 283.8,322.6 284.1,330.7 284.3,317.7 284.6,320.7 284.8,324.5 285.0,321.8 285.3,316.3 285.5,313.1 285.8,313.4 286.0,305.1 286.2,329.6 286.5,323.9 286.7,314.7 287.0,325.9 287.2,321.1 287.4,318.7 287.7,335.2 287.9,312.7 288.1,315.4 288.4,322.5 288.6,315.3 288.9,317.8 289.1,322.4 289.3,312.3 289.6,318.0 289.8,313.6 290.1,312.9 290.3,323.0 290.5,317.4 290.8,331.4 291.0,321.4 291.3,316.8 291.5,327.7 291.7,333.9 292.0,307.2 292.2,322.3 292.5,320.4 292.7,314.0 292.9,326.5 293.2,317.9 293.4,343.1 293.7,327.4 293.9,324.0 294.1,318.0 294.4,320.1 294.6,330.4 294.9,333.5 295.1,328.0 295.3,316.4 295.6,318.5 295.8,314.8 296.0,325.2 296.3,339.1 296.5,325.4 296.8,323.5 297.0,325.3 297.2,319.0 297.5,322.4 297.7,329.1 298.0,327.1 298.2,320.3 298.4,327.4 298.7,321.7 298.9,306.2 299.2,322.9 299.4,320.3 299.6,327.6 299.9,315.1 300.1,317.5 300.4,317.2 300.6,321.2 300.8,317.3 301.1,318.3 301.3,333.2 301.6,341.9 301.8,305.5 302.0,315.2 302.3,321.1 302.5,321.7 302.8,320.6 303.0,311.6 303.2,338.9 303.5,322.6 303.7,300.6 303.9,319.5 304.2,322.6 304.4,321.2 304.7,304.5 304.9,327.1 305.1,329.2 305.4,318.4 305.6,328.9 305.9,320.5 306.1,313.2 306.3,323.6 306.6,327.8 306.8,310.7 307.1,309.6 307.3,309.8 307.5,322.8 307.8,310.5 308.0,307.3 308.3,321.2 308.5,315.9 308.7,316.3 309.0,324.4 309.2,318.3 309.5,319.4 309.7,318.9 309.9,319.6 310.2,320.8 310.4,315.5 310.7,318.5 310.9,317.8 311.1,319.2 311.4,316.6 311.6,320.0 311.8,333.1 312.1,315.9 312.3,320.8 312.6,326.2 312.8,320.1 313.0,317.6 313.3,317.5 313.5,309.1 313.8,321.8 314.0,330.6 314.2,306.6 314.5,329.1 314.7,320.9 315.0,314.3 315.2,320.8 315.4,314.9 315.7,313.5 315.9,310.2 316.2,320.8 316.4,299.4 316.6,321.1 316.9,317.0 317.1,319.7 317.4,322.0 317.6,316.5 317.8,315.8 318.1,323.0 318.3,318.3 318.6,313.9 318.8,314.7 319.0,321.3 319.3,311.5 319.5,316.7 319.7,319.5 320.0,316.7 320.2,321.7 320.5,330.5 320.7,318.0 320.9,319.2 321.2,322.5 321.4,314.9 321.7,319.6 321.9,313.3 322.1,311.7 322.4,321.8 322.6,299.5 322.9,319.6 323.1,316.0 323.3,321.7 323.6,318.7 323.8,322.8 324.1,315.3 324.3,323.7 324.5,319.9 324.8,321.2 325.0,315.6 325.3,324.2 325.5,317.5 325.7,311.5 326.0,315.6 326.2,315.1 326.5,319.1 326.7,318.3 326.9,311.0 327.2,308.1 327.4,307.6 327.6,321.1 327.9,302.4 328.1,309.1 328.4,307.6 328.6,307.5 328.8,315.5 329.1,309.9 329.3,305.2 329.6,299.2 329.8,304.7 330.0,324.7 330.3,304.7 330.5,296.5 330.8,293.3 331.0,296.5 331.2,284.3 331.5,290.9 331.7,291.1 332.0,293.6 332.2,308.9 332.4,294.4 332.7,296.4 332.9,304.2 333.2,297.4 333.4,299.1 333.6,305.6 333.9,304.1 334.1,306.6 334.4,304.8 334.6,308.0 334.8,302.1 335.1,306.3 335.3,307.9 335.5,316.9 335.8,308.7 336.0,301.8 336.3,304.6 336.5,305.1 336.7,298.0 337.0,294.3 337.2,312.4 337.5,300.3 337.7,317.2 337.9,311.6 338.2,308.8 338.4,316.7 338.7,310.8 338.9,308.3 339.1,321.6 339.4,314.7 339.6,317.0 339.9,327.5 340.1,316.1 340.3,320.2 340.6,306.2 340.8,320.7 341.1,315.5 341.3,318.4 341.5,302.2 341.8,311.3 342.0,311.8 342.3,309.4 342.5,316.2 342.7,305.4 343.0,321.9 343.2,316.6 343.4,322.4 343.7,331.6 343.9,313.9 344.2,312.4 344.4,310.8 344.6,312.1 344.9,308.6 345.1,315.9 345.4,306.0 345.6,307.1 345.8,307.6 346.1,301.9 346.3,314.3 346.6,302.3 346.8,297.4 347.0,299.1 347.3,294.2 347.5,297.6 347.8,288.0 348.0,290.1 348.2,263.5 348.5,279.7 348.7,286.8 349.0,271.1 349.2,271.6 349.4,287.4 349.7,273.8 349.9,271.7 350.2,285.8 350.4,278.5 350.6,283.9 350.9,299.8 351.1,285.4 351.3,307.7 351.6,290.5 351.8,300.4 352.1,292.0 352.3,300.5 352.5,304.2 352.8,296.4 353.0,303.2 353.3,309.4 353.5,296.3 353.7,306.5 354.0,303.5 354.2,296.0 354.5,292.6 354.7,291.3 354.9,301.6 355.2,278.2 355.4,265.0 355.7,262.0 355.9,272.2 356.1,262.3 356.4,259.7 356.6,244.7 356.9,249.4 357.1,245.0 357.3,226.7 357.6,221.8 357.8,229.3 358.1,216.7 358.3,210.9 358.5,210.5 358.8,206.1 359.0,204.7 359.2,208.1 359.5,215.4 359.7,210.0 360.0,221.3 360.2,219.9 360.4,222.1 360.7,241.3 360.9,239.0 361.2,243.9 361.4,249.9 361.6,262.6 361.9,265.4 362.1,279.9 362.4,279.6 362.6,278.0 362.8,288.0 363.1,291.0 363.3,295.9 363.6,309.0 363.8,299.4 364.0,296.8 364.3,300.8 364.5,304.2 364.8,299.8 365.0,298.9 365.2,298.6 365.5,312.7 365.7,305.5 366.0,307.8 366.2,311.8 366.4,316.1 366.7,307.2 366.9,312.6 367.2,305.3 367.4,307.9 367.6,308.9 367.9,306.9 368.1,295.5 368.3,314.1 368.6,309.1 368.8,313.2 369.1,311.5 369.3,308.6 369.5,314.7 369.8,306.0 370.0,308.9 370.3,298.3 370.5,312.2 370.7,310.1 371.0,314.9 371.2,326.2 371.5,309.9 371.7,301.6 371.9,312.4 372.2,309.2 372.4,309.9 372.7,322.0 372.9,303.1 373.1,303.7 373.4,311.5 373.6,307.2 373.9,313.1 374.1,302.6 374.3,310.6 374.6,302.9 374.8,303.1 375.1,311.9 375.3,311.1 375.5,315.9 375.8,312.7 376.0,311.1 376.2,309.3 376.5,317.4 376.7,305.7 377.0,309.8 377.2,307.5 377.4,315.5 377.7,322.0 377.9,320.9 378.2,312.9 378.4,311.3 378.6,313.4 378.9,312.5 379.1,311.6 379.4,314.1 379.6,323.9 379.8,312.4 380.1,310.8 380.3,313.2 380.6,313.5 380.8,309.5 381.0,321.9 381.3,310.8 381.5,307.3 381.8,306.7 382.0,303.5 382.2,317.1 382.5,332.2 382.7,309.9 383.0,303.7 383.2,304.8 383.4,315.9 383.7,313.1 383.9,310.8 384.1,324.5 384.4,317.2 384.6,317.1 384.9,302.8 385.1,317.4 385.3,303.1 385.6,313.3 385.8,324.4 386.1,299.2 386.3,316.8 386.5,309.8 386.8,302.8 387.0,326.1 387.3,322.2 387.5,307.5 387.7,313.9 388.0,322.5 388.2,321.6 388.5,319.8 388.7,308.5 388.9,316.8 389.2,310.8 389.4,299.8 389.7,307.0 389.9,306.0 390.1,316.6 390.4,313.5 390.6,330.2 390.9,317.3 391.1,327.9 391.3,322.9 391.6,326.3 391.8,330.9 392.0,316.2 392.3,323.8 392.5,321.6 392.8,317.5 393.0,312.1 393.2,313.4 393.5,314.5 393.7,308.0 394.0,318.8 394.2,312.9 394.4,323.8 394.7,314.9 394.9,316.3 395.2,316.0 395.4,320.3 395.6,310.5 395.9,319.6 396.1,320.5 396.4,310.8 396.6,311.7 396.8,325.5 397.1,313.7 397.3,321.0 397.6,314.9 397.8,321.1 398.0,327.6 398.3,311.5 398.5,315.3 398.8,326.3 399.0,317.5 399.2,307.3 399.5,312.2 399.7,321.0 399.9,314.6 400.2,309.1 400.4,320.8 400.7,309.5 400.9,319.9 401.1,321.0 401.4,328.9 401.6,312.5 401.9,314.0 402.1,302.6 402.3,320.6 402.6,312.6 402.8,306.6 403.1,324.2 403.3,325.7 403.5,319.0 403.8,305.8 404.0,313.3 404.3,316.8 404.5,307.9 404.7,315.0 405.0,311.5 405.2,319.5 405.5,314.7 405.7,312.1 405.9,315.7 406.2,322.1 406.4,306.8 406.7,313.1 406.9,325.3 407.1,310.9 407.4,318.8 407.6,303.1 407.8,313.6 408.1,310.1 408.3,312.6 408.6,320.5 408.8,322.0 409.0,315.0 409.3,312.0 409.5,317.5 409.8,311.0 410.0,311.0 410.2,310.2 410.5,308.1 410.7,308.9 411.0,310.9 411.2,305.4 411.4,305.3 411.7,317.2 411.9,300.2 412.2,311.7 412.4,307.0 412.6,315.6 412.9,304.5 413.1,305.7 413.4,303.4 413.6,312.2 413.8,314.4 414.1,304.8 414.3,293.4 414.6,307.1 414.8,307.8 415.0,301.6 415.3,312.0 415.5,303.0 415.7,305.9 416.0,305.8 416.2,303.1 416.5,311.7 416.7,309.6 416.9,303.5 417.2,304.0 417.4,291.8 417.7,286.3 417.9,287.0 418.1,278.8 418.4,273.8 418.6,262.0 418.9,254.1 419.1,241.2 419.3,227.5 419.6,213.2 419.8,195.2 420.1,178.8 420.3,165.3 420.5,140.3 420.8,130.5 421.0,107.4 421.3,95.1 421.5,82.7 421.7,69.1 422.0,45.4 422.2,47.3 422.5,47.0 422.7,45.4 422.9,47.1 423.2,54.1 423.4,56.5 423.6,75.1 423.9,95.2 424.1,125.5 424.4,125.7 424.6,128.3 424.8,162.9 425.1,174.2 425.3,195.7 425.6,207.4 425.8,234.4 426.0,245.3 426.3,248.8 426.5,262.1 426.8,272.7 427.0,278.6 427.2,284.8 427.5,289.9 427.7,300.4 428.0,305.3 428.2,299.6 428.4,312.1 428.7,309.2 428.9,285.4 429.2,312.2 429.4,305.1 429.6,310.1 429.9,308.5 430.1,314.8 430.4,313.6 430.6,307.3 430.8,307.4 431.1,312.9 431.3,308.0 431.5,309.0 431.8,309.7 432.0,301.1 432.3,313.6 432.5,308.6 432.7,317.3 433.0,311.0 433.2,318.7 433.5,307.4 433.7,310.0 433.9,311.3 434.2,311.5 434.4,310.6 434.7,317.0 434.9,327.7 435.1,322.4 435.4,311.3 435.6,309.0 435.9,312.9 436.1,306.1 436.3,311.9 436.6,313.0 436.8,304.4 437.1,311.3 437.3,311.9 437.5,311.6 437.8,309.9 438.0,305.8 438.3,305.9 438.5,299.5 438.7,305.0 439.0,316.8 439.2,306.0 439.4,308.5 439.7,297.4 439.9,319.8 440.2,302.4 440.4,305.3 440.6,321.4 440.9,312.4 441.1,302.5 441.4,304.8 441.6,315.4 441.8,315.7 442.1,320.1 442.3,309.7 442.6,317.6 442.8,302.9 443.0,313.6 443.3,316.1 443.5,317.1 443.8,311.2 444.0,311.3 444.2,310.6 444.5,316.3 444.7,322.7 445.0,317.9 445.2,313.7 445.4,306.1 445.7,318.6 445.9,314.9 446.2,317.4 446.4,313.0 446.6,310.0 446.9,310.6 447.1,315.3 447.3,313.1 447.6,311.4 447.8,313.9 448.1,336.5 448.3,329.0 448.5,322.6 448.8,308.4 449.0,310.9 449.3,321.0 449.5,314.9 449.7,310.7 450.0,320.6 450.2,312.6 450.5,318.0 450.7,335.5 450.9,317.7 451.2,310.6 451.4,324.1 451.7,319.6 451.9,313.4 452.1,324.7 452.4,320.7 452.6,314.0 452.9,317.5 453.1,318.4 453.3,316.7 453.6,323.4 453.8,317.5 454.1,330.4 454.3,312.9 454.5,326.1 454.8,320.1 455.0,308.5 455.2,317.6 455.5,314.1 455.7,320.6 456.0,323.3 456.2,316.8 456.4,320.6 456.7,313.2 456.9,320.0 457.2,314.2 457.4,317.0 457.6,316.3 457.9,318.1 458.1,323.3 458.4,326.9 458.6,312.1 458.8,318.8 459.1,316.3 459.3,320.8 459.6,330.2 459.8,315.0 460.0,309.7 460.3,322.8 460.5,322.9 460.8,326.9 461.0,321.2 461.2,320.3 461.5,319.4 461.7,318.5 462.0,321.9 462.2,321.5 462.4,318.2 462.7,316.2 462.9,318.8 463.1,307.6 463.4,316.9 463.6,328.8 463.9,322.0 464.1,312.0 464.3,324.3 464.6,327.8 464.8,324.0 465.1,314.4 465.3,325.0 465.5,310.4 465.8,318.3 466.0,311.2 466.3,312.3 466.5,307.4 466.7,323.3 467.0,307.1 467.2,315.1 467.5,310.3 467.7,325.1 467.9,320.1 468.2,317.0 468.4,316.2 468.7,316.9 468.9,305.3 469.1,318.8 469.4,322.1 469.6,320.2 469.9,314.6 470.1,323.8 470.3,322.7 470.6,310.1 470.8,315.8 471.0,312.8 471.3,321.5 471.5,317.7 471.8,318.7 472.0,320.2 472.2,317.4 472.5,311.7 472.7,299.6 473.0,315.5 473.2,316.4 473.4,326.9 473.7,323.1 473.9,316.4 474.2,323.4 474.4,318.6 474.6,310.7 474.9,316.8 475.1,316.7 475.4,315.5 475.6,314.9 475.8,315.0 476.1,317.4 476.3,320.2 476.6,310.9 476.8,326.0 477.0,314.3 477.3,319.6 477.5,312.7 477.8,319.2 478.0,320.2 478.2,317.7 478.5,327.1 478.7,319.3 478.9,328.1 479.2,308.7 479.4,317.6 479.7,311.8 479.9,326.1 480.1,314.6 480.4,322.9 480.6,316.1 480.9,322.6 481.1,330.2 481.3,318.2 481.6,310.8 481.8,317.4 482.1,324.0 482.3,312.7 482.5,323.4 482.8,323.4 483.0,326.4 483.3,312.1 483.5,307.5 483.7,304.7 484.0,317.6 484.2,313.6 484.5,306.8 484.7,334.0 484.9,318.8 485.2,315.9 485.4,328.7 485.7,317.4 485.9,318.8 486.1,315.7 486.4,323.6 486.6,319.6 486.9,323.8 487.1,316.6 487.3,319.4 487.6,322.6 487.8,328.9 488.0,310.6 488.3,313.9 488.5,315.3 488.8,324.6 489.0,322.7 489.2,310.6 489.5,317.9 489.7,325.8 490.0,320.4 490.2,319.8 490.4,321.7 490.7,311.1 490.9,312.8 491.2,316.6 491.4,321.2 491.6,318.2 491.9,313.7 492.1,319.6 492.4,330.6 492.6,321.4 492.8,312.4 493.1,318.0 493.3,323.1 493.6,335.1 493.8,325.2 494.0,326.9 494.3,318.6 494.5,315.4 494.8,318.0 495.0,323.9 495.2,317.1 495.5,302.2 495.7,314.1 495.9,317.3 496.2,317.0 496.4,322.1 496.7,308.9 496.9,318.6 497.1,315.7 497.4,307.5 497.6,308.6 497.9,306.1 498.1,316.6 498.3,315.9 498.6,325.4 498.8,320.3 499.1,313.5 499.3,314.5 499.5,308.4 499.8,312.4 500.0,323.7 500.3,312.0 500.5,303.7 500.7,323.1 501.0,316.7 501.2,312.1 501.5,320.2 501.7,300.9 501.9,312.0 502.2,320.3 502.4,314.5 502.7,310.1 502.9,320.3 503.1,312.4 503.4,323.6 503.6,310.7 503.8,310.4 504.1,309.2 504.3,314.5 504.6,307.2 504.8,310.7 505.0,311.9 505.3,309.6 505.5,307.2 505.8,307.2 506.0,315.3 506.2,307.8 506.5,303.7 506.7,306.7 507.0,299.2 507.2,296.3 507.4,301.6 507.7,299.1 507.9,295.8 508.2,283.0 508.4,284.5 508.6,281.0 508.9,270.8 509.1,260.3 509.4,251.4 509.6,242.1 509.8,242.0 510.1,228.7 510.3,212.1 510.6,200.9 510.8,193.1 511.0,168.1 511.3,168.4 511.5,167.9 511.7,162.6 512.0,148.6 512.2,151.8 512.5,163.7 512.7,158.6 512.9,157.6 513.2,150.1 513.4,180.5 513.7,177.0 513.9,187.0 514.1,190.0 514.4,202.6 514.6,214.2 514.9,218.3 515.1,234.0 515.3,244.7 515.6,252.2 515.8,248.9 516.1,267.3 516.3,274.1 516.5,277.9 516.8,273.4 517.0,296.0 517.3,298.4 517.5,293.8 517.7,282.9 518.0,288.4 518.2,288.1 518.5,292.2 518.7,302.4 518.9,298.1 519.2,315.5 519.4,303.8 519.6,297.1 519.9,310.7 520.1,302.7 520.4,310.5 520.6,302.1 520.8,297.1 521.1,312.1 521.3,297.0 521.6,315.5 521.8,303.1 522.0,304.4 522.3,302.3 522.5,319.2 522.8,308.7 523.0,313.6 523.2,311.3 523.5,313.2 523.7,309.6 524.0,306.9 524.2,313.4 524.4,309.7 524.7,302.7 524.9,321.2 525.2,325.0 525.4,312.6 525.6,304.8 525.9,315.2 526.1,309.8 526.4,318.4 526.6,318.5 526.8,320.6 527.1,312.9 527.3,314.7 527.5,314.8 527.8,309.0 528.0,310.9 528.3,320.9 528.5,312.1 528.7,327.6 529.0,323.6 529.2,319.0 529.5,314.4 529.7,314.5 529.9,317.2 530.2,312.6 530.4,318.8 530.7,313.6 530.9,319.3 531.1,320.2 531.4,317.0 531.6,318.1 531.9,328.2 532.1,305.3 532.3,316.9 532.6,328.0 532.8,311.4 533.1,318.0 533.3,316.7 533.5,313.7 533.8,319.6 534.0,335.6 534.3,318.6 534.5,316.6 534.7,312.0 535.0,311.0 535.2,319.7 535.4,315.7 535.7,320.0 535.9,319.7 536.2,315.7 536.4,324.2 536.6,308.7 536.9,323.8 537.1,318.1 537.4,320.3 537.6,322.6 537.8,315.2 538.1,319.4 538.3,309.7 538.6,315.0 538.8,321.2 539.0,313.3 539.3,327.2 539.5,318.3 539.8,315.4 540.0,315.2 540.2,325.5 540.5,319.4 540.7,308.7 541.0,321.8 541.2,328.7 541.4,326.2 541.7,318.8 541.9,311.8 542.2,318.9 542.4,321.0 542.6,317.6 542.9,316.2 543.1,313.1 543.3,321.3 543.6,317.3 543.8,321.4 544.1,323.0 544.3,308.9 544.5,324.1 544.8,318.8 545.0,318.6 545.3,319.8 545.5,322.5 545.7,312.8 546.0,318.9 546.2,318.9 546.5,309.6 546.7,336.8 546.9,326.2 547.2,314.6 547.4,307.4 547.7,307.8 547.9,315.8 548.1,321.2 548.4,325.0 548.6,320.2 548.9,318.0 549.1,320.2 549.3,326.6 549.6,317.3 549.8,322.8 550.1,322.6 550.3,318.7 550.5,318.7 550.8,317.3 551.0,312.5 551.2,326.1 551.5,326.8 551.7,318.3 552.0,322.9 552.2,319.7 552.4,318.3 552.7,315.8 552.9,315.6 553.2,330.1 553.4,320.9 553.6,326.4 553.9,321.7 554.1,315.9 554.4,320.2 554.6,303.9 554.8,328.8 555.1,324.9 555.3,319.9 555.6,306.0 555.8,322.0 556.0,329.1 556.3,313.6 556.5,326.1 556.8,321.7 557.0,315.3 557.2,324.6 557.5,323.3 557.7,317.7 558.0,321.9 558.2,319.0 558.4,326.4 558.7,321.4 558.9,318.2 559.1,330.1 559.4,310.2 559.6,318.1 559.9,318.5 560.1,326.6 560.3,330.1 560.6,322.1 560.8,329.4 561.1,317.6 561.3,332.7 561.5,322.1 561.8,329.9 562.0,314.9 562.3,316.3 562.5,318.5 562.7,326.3 563.0,324.1 563.2,313.5 563.5,314.6 563.7,308.2 563.9,320.0 564.2,327.6 564.4,311.7 564.7,320.9 564.9,313.4 565.1,321.4 565.4,330.6 565.6,318.9 565.9,317.7 566.1,324.5 566.3,325.8 566.6,321.1 566.8,314.2 567.0,319.5 567.3,310.5 567.5,315.7 567.8,316.2 568.0,312.5 568.2,315.2 568.5,324.0 568.7,317.8 569.0,317.7 569.2,320.9 569.4,314.0 569.7,324.6 569.9,320.3 570.2,322.5 570.4,323.0 570.6,323.5 570.9,315.5 571.1,323.6 571.4,322.9 571.6,319.9 571.8,323.8 572.1,322.1 572.3,333.5 572.6,320.7 572.8,322.5 573.0,321.4 573.3,318.6 573.5,331.4 573.8,317.3 574.0,319.7 574.2,319.2 574.5,330.7 574.7,317.0 574.9,318.1 575.2,322.4 575.4,310.8 575.7,313.1 575.9,322.1 576.1,324.2 576.4,312.8 576.6,324.0 576.9,321.1 577.1,307.5 577.3,319.2 577.6,321.0 577.8,320.6 578.1,322.3 578.3,318.9 578.5,319.3 578.8,333.0 579.0,321.5 579.3,318.5 579.5,318.1 579.7,319.8 580.0,316.0 580.2,318.9 580.5,323.4 580.7,322.2 580.9,321.5 581.2,314.9 581.4,330.4 581.7,318.4 581.9,305.7 582.1,329.7 582.4,312.7 582.6,329.2 582.8,318.5 583.1,312.3 583.3,313.0 583.6,325.0 583.8,317.5 584.0,327.6 584.3,326.7 584.5,318.8 584.8,320.5 585.0,319.3 585.2,318.6 585.5,318.0 585.7,320.0 586.0,328.3 586.2,320.3 586.4,333.7 586.7,314.8 586.9,323.5 587.2,321.6 587.4,321.0 587.6,322.4 587.9,320.8 588.1,320.8 588.4,325.8 588.6,321.7 588.8,323.4 589.1,314.6 589.3,321.4 589.6,323.9 589.8,318.7 590.0,318.1 590.3,322.9 590.5,322.0 590.7,314.3 591.0,325.2 591.2,324.5 591.5,320.0 591.7,326.2 591.9,331.8 592.2,328.2 592.4,319.8 592.7,319.7 592.9,318.1 593.1,319.0 593.4,326.2 593.6,317.7 593.9,315.6 594.1,322.2 594.3,316.5 594.6,322.3 594.8,319.9 595.1,319.1 595.3,327.3 595.5,314.2 595.8,324.5 596.0,306.1 596.3,322.9 596.5,318.6 596.7,326.3 597.0,320.6 597.2,314.4 597.5,319.4 597.7,325.0 597.9,333.5 598.2,321.9 598.4,322.7 598.6,324.6 598.9,333.0 599.1,322.3 599.4,316.0 599.6,312.3 599.8,315.6 600.1,320.8 600.3,319.5 600.6,326.7 600.8,319.2 601.0,319.1 601.3,323.4 601.5,321.1 601.8,321.8 602.0,323.5 602.2,314.8 602.5,319.9 602.7,317.0 603.0,321.1 603.2,320.0 603.4,322.2 603.7,311.0 603.9,322.3 604.2,318.9 604.4,321.2 604.6,318.0 604.9,320.9 605.1,323.8 605.4,326.2 605.6,321.1 605.8,314.6 606.1,325.2 606.3,323.6 606.6,314.6 606.8,318.9 607.0,315.9 607.3,319.5 607.5,320.0 607.7,326.2 608.0,326.7 608.2,318.8 608.5,319.1 608.7,317.6 608.9,325.5 609.2,323.2 609.4,318.9 609.7,326.5 609.9,310.7 610.1,318.1 610.4,322.2 610.6,322.9 610.9,310.4 611.1,310.8 611.3,319.8 611.6,319.1 611.8,315.1 612.1,325.8 612.3,323.2 612.5,314.7 612.8,323.7 613.0,322.5 613.3,326.5 613.5,320.3 613.7,322.8 614.0,324.2 614.2,326.4 614.5,320.6 614.7,312.9 614.9,319.9 615.2,323.1 615.4,322.3 615.6,318.7 615.9,320.1 616.1,317.4 616.4,319.3 616.6,321.6 616.8,317.0 617.1,326.5 617.3,316.1 617.6,322.8 617.8,321.4 618.0,314.8 618.3,322.9 618.5,321.1 618.8,316.5 619.0,315.9 619.2,322.6 619.5,315.8 619.7,313.1 620.0,327.6 620.2,327.9 620.4,319.7 620.7,324.7 620.9,318.6 621.2,319.9 621.4,326.7 621.6,318.0 621.9,325.5 622.1,321.9 622.4,321.4 622.6,317.6 622.8,314.7 623.1,324.7 623.3,316.7 623.5,313.7 623.8,311.9 624.0,318.3 624.3,330.6 624.5,324.8 624.7,319.7 625.0,320.7 625.2,311.7 625.5,317.3 625.7,319.1 625.9,325.0 626.2,324.8 626.4,323.1 626.7,322.9 626.9,321.2 627.1,318.5 627.4,319.1 627.6,315.7 627.9,316.5 628.1,319.1 628.3,318.9 628.6,313.0 628.8,320.8 629.1,318.4 629.3,323.2 629.5,317.8 629.8,317.8 630.0,322.2 630.3,319.5 630.5,319.4 630.7,316.6 631.0,323.9 631.2,314.9 631.4,311.8 631.7,310.1 631.9,318.4 632.2,319.2 632.4,319.7 632.6,305.9 632.9,313.1 633.1,312.6 633.4,315.9 633.6,314.0 633.8,308.3 634.1,317.3 634.3,312.4 634.6,312.8 634.8,304.0 635.0,307.3 635.3,295.7 635.5,299.7 635.8,293.4 636.0,297.0 636.2,291.0 636.5,297.5 636.7,287.4 637.0,294.1 637.2,286.1 637.4,287.3 637.7,286.7 637.9,284.0 638.2,296.3 638.4,284.5 638.6,285.5 638.9,286.7 639.1,288.7 639.3,298.0 639.6,303.3 639.8,304.5 640.1,304.2 640.3,304.8 640.5,318.3 640.8,307.0 641.0,312.1 641.3,316.6 641.5,309.5 641.7,315.9 642.0,312.8 642.2,313.8 642.5,318.1 642.7,312.3 642.9,312.3 643.2,320.2 643.4,325.2 643.7,320.9 643.9,320.1 644.1,320.0 644.4,314.9 644.6,318.2 644.9,318.7 645.1,317.8 645.3,323.3 645.6,320.2 645.8,322.5 646.1,329.7 646.3,327.3 646.5,316.8 646.8,321.8 647.0,328.6 647.2,326.2 647.5,316.7 647.7,322.2 648.0,319.6 648.2,322.4 648.4,312.0 648.7,322.3 648.9,321.7 649.2,315.5 649.4,327.6 649.6,318.1 649.9,318.2 650.1,323.7 650.4,323.3 650.6,320.9 650.8,320.0 651.1,321.8 651.3,319.6 651.6,314.7 651.8,313.5 652.0,317.6 652.3,317.4 652.5,322.1 652.8,325.1 653.0,318.1 653.2,320.4 653.5,325.4 653.7,320.0 654.0,309.5 654.2,325.9 654.4,320.5 654.7,316.5 654.9,326.3 655.1,322.9 655.4,329.0 655.6,326.5 655.9,314.4 656.1,317.3 656.3,319.4 656.6,321.9 656.8,315.4 657.1,314.9 657.3,317.1 657.5,321.6 657.8,321.8 658.0,322.5 658.3,320.2 658.5,319.7 658.7,322.0 659.0,321.6 659.2,318.4 659.5,322.3 659.7,319.3 659.9,320.8 660.2,315.1 660.4,315.9 660.7,326.4 660.9,321.3 661.1,317.7 661.4,322.4 661.6,317.3 661.9,319.2 662.1,318.1 662.3,320.8 662.6,322.6 662.8,318.4 663.0,326.5 663.3,324.2 663.5,324.6 663.8,313.6 664.0,319.2 664.2,318.9 664.5,319.7 664.7,322.5 665.0,323.4 665.2,316.9 665.4,321.8 665.7,313.9 665.9,319.5 666.2,319.9 666.4,321.1 666.6,319.4 666.9,320.0 667.1,314.0 667.4,318.0 667.6,319.1 667.8,319.0 668.1,317.1 668.3,320.1 668.6,322.4 668.8,323.5 669.0,315.3 669.3,317.1 669.5,319.8 669.8,319.9 670.0,320.8 670.2,318.4 670.5,329.4 670.7,330.3 670.9,324.1 671.2,321.1 671.4,317.5 671.7,320.0 671.9,319.2 672.1,322.1 672.4,321.5 672.6,316.2 672.9,314.8 673.1,315.7 673.3,319.9 673.6,315.5 673.8,326.5 674.1,313.2 674.3,315.2 674.5,306.1 674.8,308.6 675.0,313.8 675.3,318.3 675.5,310.8 675.7,304.9 676.0,306.4 676.2,301.0 676.5,299.4 676.7,298.3 676.9,294.4 677.2,289.1 677.4,282.1 677.7,274.7 677.9,275.5 678.1,264.3 678.4,265.0 678.6,253.6 678.8,254.0 679.1,246.2 679.3,246.2 679.6,241.4 679.8,243.2 680.0,233.3 680.3,236.3 680.5,235.5 680.8,231.4 681.0,241.7 681.2,243.4 681.5,246.1 681.7,248.2 682.0,263.0 682.2,262.1 682.4,259.9 682.7,273.0 682.9,276.9 683.2,282.7 683.4,292.0 683.6,287.8 683.9,294.3 684.1,298.2 684.4,299.0 684.6,301.5 684.8,314.3 685.1,307.0 685.3,312.9 685.6,311.7 685.8,316.0 686.0,317.4 686.3,311.4 686.5,315.8 686.7,317.5 687.0,318.0 687.2,314.9 687.5,317.7 687.7,327.1 687.9,321.5 688.2,319.3 688.4,315.6 688.7,313.4 688.9,322.5 689.1,311.5 689.4,318.8 689.6,317.3 689.9,321.4 690.1,321.8 690.3,314.0 690.6,320.4 690.8,320.1 691.1,315.3 691.3,313.2 691.5,325.7 691.8,320.7 692.0,320.0 692.3,313.0 692.5,310.6 692.7,320.3 693.0,318.7 693.2,314.9 693.5,315.8 693.7,319.9 693.9,317.0 694.2,323.1 694.4,321.4 694.6,325.7 694.9,319.6 695.1,317.5 695.4,329.2 695.6,328.9 695.8,320.7 696.1,323.1 696.3,318.5 696.6,316.7 696.8,332.1 697.0,317.7 697.3,321.4 697.5,320.2 697.8,319.6 698.0,321.6 698.2,320.3 698.5,317.2 698.7,320.0 699.0,320.6 699.2,326.3 699.4,318.9 699.7,320.7 699.9,318.6 700.2,320.9 700.4,321.2 700.6,323.2 700.9,318.1 701.1,321.6 701.4,323.5 701.6,314.8 701.8,314.1 702.1,324.4 702.3,318.0 702.5,316.6 702.8,324.1 703.0,310.4 703.3,321.4 703.5,317.3 703.7,325.8 704.0,321.1 704.2,316.8 704.5,319.3 704.7,323.0 704.9,311.6 705.2,318.1 705.4,324.9 705.7,323.2 705.9,322.0 706.1,315.8 706.4,323.9 706.6,320.8 706.9,315.5 707.1,316.2 707.3,321.6 707.6,317.7 707.8,318.8 708.1,321.4 708.3,318.3 708.5,317.4 708.8,325.3 709.0,318.3 709.3,320.6 709.5,322.1 709.7,318.6 710.0,326.0 710.2,324.6 710.4,323.2 710.7,318.1 710.9,321.2 711.2,325.5 711.4,316.9 711.6,321.8 711.9,324.8 712.1,320.8 712.4,324.7 712.6,319.5 712.8,321.3 713.1,322.4 713.3,318.5 713.6,315.4 713.8,317.3 714.0,328.6 714.3,315.0 714.5,322.3 714.8,322.0 715.0,323.8 715.2,319.0 715.5,325.1 715.7,320.7 716.0,317.1 716.2,322.6 716.4,321.9 716.7,319.4 716.9,317.0 717.2,321.6 717.4,320.4 717.6,320.8 717.9,318.2 718.1,315.4 718.3,324.5 718.6,319.2 718.8,321.2 719.1,318.8 719.3,315.3 719.5,315.5 719.8,320.2 720.0,316.7 720.3,325.6 720.5,323.4 720.7,322.7 721.0,321.0 721.2,320.1 721.5,322.9 721.7,314.4 721.9,323.6 722.2,321.7 722.4,316.8 722.7,318.0 722.9,321.0 723.1,319.5 723.4,317.8 723.6,320.9 723.9,322.0 724.1,324.3 724.3,323.5 724.6,327.0 724.8,324.2 725.1,325.1 725.3,316.2 725.5,322.6 725.8,319.7 726.0,324.3 726.3,321.6 726.5,321.1 726.7,320.8 727.0,321.9 727.2,327.0 727.4,318.4 727.7,310.8 727.9,323.8 728.2,320.6 728.4,326.6 728.6,320.8 728.9,327.2 729.1,322.9 729.4,322.5 729.6,327.6 729.8,325.5 730.1,326.6 730.3,321.7 730.6,317.4 730.8,322.1 731.0,325.0 731.3,323.7 731.5,320.1 731.8,329.6 732.0,318.3 732.2,319.9 732.5,329.6 732.7,316.0 733.0,326.5 733.2,321.1 733.4,315.9 733.7,326.3 733.9,320.8 734.2,324.3 734.4,324.1 734.6,320.5 734.9,321.9 735.1,321.7 735.3,321.5 735.6,320.3 735.8,322.7 736.1,318.1 736.3,319.1 736.5,322.7 736.8,319.9 737.0,319.6 737.3,315.3 737.5,320.3 737.7,318.3 738.0,314.4 738.2,312.3 738.5,309.3 738.7,316.5 738.9,301.5 739.2,307.9 739.4,311.1 739.7,296.6 739.9,294.0 740.1,293.2 740.4,295.4 740.6,288.0 740.9,280.9 741.1,279.7 741.3,275.2 741.6,266.7 741.8,255.8 742.1,250.6 742.3,246.5 742.5,238.1 742.8,229.7 743.0,216.3 743.2,199.2 743.5,193.3 743.7,191.2 744.0,175.7 744.2,164.2 744.4,161.0 744.7,162.0 744.9,150.7 745.2,157.6 745.4,152.7 745.6,142.5 745.9,142.7 746.1,151.3 746.4,154.3 746.6,159.5 746.8,162.9 747.1,175.7 747.3,177.4 747.6,193.6 747.8,199.8 748.0,208.4 748.3,219.8 748.5,224.3 748.8,239.2 749.0,243.9 749.2,253.0 749.5,261.3 749.7,259.2 750.0,271.4 750.2,278.0 750.4,278.6 750.7,286.3 750.9,285.5 751.1,285.8 751.4,287.6 751.6,291.8 751.9,296.0 752.1,298.1 752.3,299.5 752.6,295.4 752.8,295.6 753.1,307.5 753.3,306.0 753.5,308.1 753.8,302.3 754.0,308.7 754.3,305.8 754.5,308.1 754.7,307.1 755.0,311.5 755.2,309.3 755.5,319.3 755.7,306.5 755.9,315.5 756.2,312.3 756.4,313.9 756.7,315.3 756.9,315.9 757.1,316.6 757.4,323.3 757.6,319.8 757.9,319.2 758.1,322.4 758.3,322.8 758.6,311.6 758.8,320.5 759.0,320.9 759.3,320.0 759.5,319.2 759.8,317.5 760.0,318.4 760.2,320.9 760.5,320.8 760.7,323.4 761.0,320.3 761.2,315.2 761.4,322.4 761.7,321.6 761.9,320.0 762.2,321.0 762.4,319.2 762.6,323.4 762.9,326.7 763.1,314.9 763.4,323.8 763.6,323.0 763.8,324.2 764.1,323.3 764.3,322.1 764.6,320.8 764.8,325.2 765.0,320.4 765.3,323.9 765.5,317.1 765.8,325.9 766.0,321.1 766.2,318.9 766.5,326.4 766.7,321.1 766.9,321.0 767.2,324.4 767.4,322.4 767.7,318.1 767.9,320.7 768.1,323.1 768.4,321.8 768.6,320.1 768.9,317.1 769.1,318.8 769.3,319.1 769.6,316.1 769.8,327.2 770.1,326.8 770.3,329.8 770.5,318.8 770.8,323.3 771.0,321.9 771.3,319.1 771.5,326.8 771.7,324.2 772.0,326.8 772.2,319.2 772.5,327.2 772.7,320.7 772.9,319.4 773.2,321.4 773.4,320.6 773.7,328.2 773.9,321.1 774.1,322.0 774.4,323.1 774.6,325.7 774.8,322.9 775.1,319.6 775.3,321.6 775.6,318.0 775.8,324.7 776.0,321.7 776.3,320.7 776.5,320.5 776.8,318.0 777.0,320.6 777.2,318.8 777.5,315.1 777.7,327.3 778.0,325.7 778.2,327.0 778.4,319.7 778.7,323.3 778.9,321.0 779.2,322.6 779.4,317.4 779.6,325.8 779.9,326.0 780.1,321.1 780.4,323.1 780.6,323.3 780.8,319.8 781.1,322.5 781.3,320.5 781.6,313.4 781.8,317.4 782.0,318.2 782.3,322.9 782.5,326.2 782.7,317.7 783.0,323.1 783.2,320.2 783.5,318.5 783.7,321.7 783.9,313.7 784.2,323.2 784.4,323.1 784.7,321.4 784.9,321.1 785.1,326.3 785.4,328.3 785.6,324.1 785.9,322.9 786.1,324.9 786.3,325.6 786.6,325.4 786.8,316.1 787.1,322.6 787.3,327.8 787.5,324.1 787.8,321.0 788.0,322.6 788.3,326.9 788.5,323.4 788.7,322.3 789.0,319.6 789.2,319.5 789.5,319.9 789.7,323.8 789.9,321.5 790.2,322.1 790.4,325.2 790.6,325.0 790.9,322.7 791.1,319.8 791.4,324.1 791.6,327.1 791.8,320.7 792.1,323.1 792.3,323.1 792.6,324.0 792.8,323.4 793.0,316.8 793.3,312.5 793.5,325.6 793.8,323.8 794.0,321.6 794.2,322.0 794.5,322.3 794.7,325.8 795.0,324.2 795.2,324.8 795.4,318.8 795.7,321.1 795.9,321.2 796.2,316.9 796.4,323.3 796.6,323.3 796.9,326.8 797.1,321.6 797.4,325.6 797.6,316.7 797.8,320.7 798.1,323.2 798.3,326.2 798.5,322.5 798.8,319.4 799.0,322.3 799.3,320.1 799.5,323.1 799.7,323.3 800.0,321.3 800.2,318.7 800.5,322.6 800.7,325.5 800.9,323.8 801.2,321.1 801.4,319.5 801.7,314.2 801.9,323.2 802.1,321.8 802.4,323.5 802.6,321.1 802.9,316.6 803.1,325.9 803.3,318.9 803.6,325.8 803.8,318.0 804.1,326.4 804.3,321.4 804.5,320.1 804.8,328.6 805.0,326.7 805.3,319.7 805.5,321.9 805.7,328.4 806.0,324.7 806.2,325.8 806.4,318.7 806.7,317.1 806.9,322.3 807.2,315.4 807.4,323.1 807.6,323.0 807.9,317.0 808.1,320.0 808.4,317.6 808.6,315.7 808.8,318.7 809.1,318.1 809.3,328.0 809.6,325.0 809.8,320.7 810.0,321.5 810.3,319.8 810.5,323.8 810.8,318.4 811.0,315.4 811.2,320.2 811.5,319.4 811.7,320.5 812.0,319.0 812.2,321.4 812.4,323.8 812.7,321.5 812.9,321.8 813.2,327.3 813.4,321.4 813.6,323.1 813.9,321.4 814.1,322.3 814.3,320.5 814.6,320.1 814.8,324.5 815.1,321.1 815.3,319.5 815.5,319.7 815.8,320.9 816.0,325.6 816.3,322.1 816.5,325.7 816.7,321.6 817.0,324.9 817.2,322.5 817.5,320.1 817.7,323.8 817.9,330.2 818.2,315.3 818.4,325.6 818.7,324.1 818.9,327.8 819.1,325.4 819.4,322.4 819.6,322.7 819.9,326.2 820.1,324.8 820.3,325.3 820.6,322.0 820.8,324.5 821.1,320.3 821.3,320.3 821.5,324.8 821.8,321.2 822.0,323.0 822.2,321.5 822.5,324.8 822.7,321.1 823.0,320.8 823.2,321.1 823.4,322.0 823.7,322.0 823.9,326.8 824.2,322.8 824.4,329.9 824.6,330.1 824.9,320.5 825.1,323.3 825.4,317.5 825.6,320.3 825.8,318.8 826.1,323.6 826.3,321.0 826.6,320.2 826.8,320.7 827.0,321.3 827.3,322.1 827.5,325.6 827.8,324.7 828.0,327.3 828.2,321.1 828.5,323.4 828.7,324.7 829.0,321.2 829.2,324.4 829.4,318.9 829.7,316.0 829.9,321.9 830.1,325.3 830.4,327.4 830.6,315.6 830.9,320.9 831.1,326.3 831.3,329.1 831.6,328.0 831.8,322.8 832.1,323.1 832.3,323.5 832.5,326.2 832.8,320.8 833.0,323.8 833.3,321.5 833.5,324.7 833.7,327.7 834.0,324.1 834.2,321.6 834.5,322.4 834.7,323.4 834.9,321.0 835.2,323.3 835.4,325.9 835.7,326.1 835.9,320.1 836.1,324.2 836.4,324.1 836.6,331.7 836.9,325.7 837.1,320.3 837.3,314.3 837.6,324.4 837.8,324.2 838.0,320.3 838.3,321.0 838.5,323.9 838.8,322.5 839.0,323.2 839.2,319.8 839.5,323.4 839.7,315.9 840.0,318.7 840.2,319.3 840.4,321.2 840.7,318.5 840.9,325.0 841.2,314.3 841.4,320.6 841.6,316.8 841.9,324.2 842.1,318.0 842.4,320.1 842.6,322.0 842.8,323.6 843.1,324.3 843.3,315.2 843.6,321.5 843.8,320.8 844.0,320.5 844.3,323.6 844.5,327.3 844.8,327.1 845.0,323.0 845.2,321.5 845.5,324.8 845.7,318.1 846.0,319.0 846.2,320.2 846.4,326.6 846.7,325.4 846.9,320.7 847.1,324.8 847.4,322.6 847.6,313.9 847.9,318.3 848.1,321.6 848.3,314.9 848.6,316.4 848.8,318.6 849.1,319.3 849.3,317.4 849.5,315.0 849.8,319.7 850.0,320.7 850.3,319.9 850.5,329.3 850.7,319.4 851.0,319.9 851.2,319.6 851.5,319.6 851.7,318.2 851.9,319.0 852.2,319.0 852.4,319.6 852.7,317.6 852.9,318.9 853.1,318.4 853.4,320.4 853.6,318.2 853.9,317.3 854.1,323.1 854.3,320.1 854.6,314.1 854.8,308.8 855.0,321.5 855.3,328.1 855.5,317.2 855.8,318.0 856.0,316.2 856.2,311.3 856.5,318.2 856.7,323.2 857.0,320.4 857.2,318.3 857.4,315.4 857.7,315.4 857.9,317.6 858.2,320.5 858.4,319.5 858.6,313.2 858.9,321.1 859.1,315.3 859.4,316.7 859.6,315.5 859.8,316.9 860.1,313.1 860.3,316.5 860.6,314.2 860.8,317.4 861.0,313.8 861.3,315.3 861.5,312.4 861.8,317.7 862.0,318.7 862.2,319.1 862.5,317.8 862.7,320.0 862.9,314.5 863.2,319.5 863.4,321.0 863.7,327.3 863.9,323.9 864.1,312.8 864.4,317.9 864.6,317.2 864.9,319.2 865.1,316.4 865.3,324.3 865.6,324.6 865.8,323.4 866.1,317.6 866.3,315.5 866.5,316.3 866.8,318.4 867.0,322.3 867.3,315.3 867.5,319.0 867.7,318.2 868.0,318.4 868.2,319.7 868.5,320.6 868.7,320.2 868.9,318.0 869.2,317.5 869.4,318.9 869.7,312.3 869.9,324.6 870.1,319.5 870.4,318.8 870.6,319.1 870.8,321.4 871.1,321.5 871.3,323.9 871.6,315.8 871.8,319.6 872.0,316.5 872.3,319.4 872.5,315.6 872.8,318.5 873.0,320.4 873.2,315.8 873.5,318.9 873.7,318.8 874.0,316.9 874.2,319.7 874.4,312.5 874.7,322.6 874.9,315.2 875.2,314.7 875.4,323.3 875.6,316.4 875.9,318.3 876.1,316.2 876.4,323.2 876.6,318.1 876.8,322.0 877.1,319.6 877.3,318.3 877.6,318.3 877.8,325.1 878.0,321.8 878.3,320.4 878.5,312.6 878.7,317.8 879.0,320.0 879.2,310.2 879.5,313.2 879.7,313.7 879.9,314.3 880.2,305.9 880.4,311.0 880.7,315.6 880.9,311.8 881.1,309.9 881.4,306.8 881.6,302.8 881.9,307.1 882.1,305.9 882.3,303.9 882.6,302.5 882.8,304.1 883.1,301.9 883.3,306.1 883.5,299.9 883.8,298.5 884.0,304.0 884.3,298.9 884.5,304.9 884.7,302.2 885.0,301.5 885.2,307.2 885.5,309.7 885.7,305.3 885.9,307.9 886.2,308.6 886.4,312.5 886.6,314.5 886.9,312.4 887.1,309.3 887.4,310.5 887.6,319.3 887.8,311.5 888.1,306.9 888.3,312.8 888.6,306.2 888.8,311.5 889.0,308.3 889.3,314.3 889.5,308.1 889.8,315.6 890.0,310.2 890.2,308.0 890.5,316.7 890.7,314.1 891.0,305.1 891.2,307.0 891.4,304.0 891.7,307.6 891.9,318.0 892.2,307.7 892.4,310.8 892.6,311.1 892.9,310.1 893.1,313.3 893.4,314.8 893.6,308.2 893.8,311.8 894.1,312.7 894.3,316.6 894.5,312.8 894.8,315.6 895.0,317.1 895.3,322.6 895.5,320.6 895.7,317.1 896.0,326.7 896.2,317.6 896.5,322.1 896.7,322.7 896.9,324.8 897.2,320.9 897.4,314.8 897.7,320.1 897.9,311.6 898.1,326.5 898.4,320.6 898.6,321.6 898.9,312.3 899.1,322.4 899.3,325.7 899.6,322.7 899.8,324.0 900.1,317.6 900.3,320.2 900.5,321.3 900.8,321.9 901.0,319.6 901.3,324.2 901.5,325.6 901.7,328.9 902.0,318.5 902.2,320.8 902.4,320.3 902.7,322.4 902.9,316.9 903.2,323.5 903.4,318.4 903.6,325.4 903.9,324.1 904.1,326.7 904.4,322.2 904.6,323.5 904.8,321.1 905.1,324.5 905.3,327.3 905.6,320.6 905.8,318.2 906.0,320.0 906.3,322.7 906.5,321.2 906.8,328.3 907.0,323.7 907.2,318.6 907.5,322.3 907.7,325.5 908.0,319.6 908.2,323.0 908.4,320.1 908.7,318.5 908.9,324.4 909.2,321.5 909.4,321.5 909.6,320.7 909.9,322.6 910.1,323.2 910.3,321.0 910.6,322.5 910.8,327.7 911.1,323.7 911.3,322.6 911.5,322.0 911.8,319.1 912.0,327.7 912.3,320.7 912.5,328.4 912.7,325.1 913.0,324.3 913.2,323.5 913.5,324.6 913.7,324.3 913.9,323.7 914.2,323.5 914.4,328.8 914.7,327.3 914.9,324.0 915.1,322.3 915.4,319.2 915.6,312.9 915.9,322.2 916.1,325.2 916.3,322.0 916.6,320.2 916.8,321.0 917.1,326.1 917.3,322.9 917.5,322.7 917.8,327.3 918.0,326.6 918.2,318.5 918.5,330.1 918.7,322.0 919.0,323.4 919.2,317.9 919.4,320.5 919.7,325.5 919.9,318.3 920.2,324.4 920.4,315.8 920.6,317.0 920.9,322.8 921.1,319.9 921.4,321.9 921.6,325.6 921.8,317.6 922.1,321.1 922.3,319.7 922.6,318.9 922.8,317.8 923.0,325.3 923.3,322.8 923.5,322.2 923.8,321.1 924.0,322.9 924.2,324.8 924.5,316.2 924.7,320.9 925.0,316.1 925.2,325.1 925.4,322.6 925.7,324.0 925.9,323.8 926.1,323.5 926.4,327.8 926.6,323.9 926.9,316.4 927.1,320.2 927.3,323.1 927.6,324.3 927.8,319.9 928.1,320.6 928.3,324.4 928.5,319.2 928.8,327.1 929.0,323.9 929.3,316.4 929.5,330.9 929.7,324.9 930.0,318.7 930.2,322.4 930.5,324.4 930.7,323.5 930.9,328.6 931.2,327.4 931.4,320.9 931.7,322.9 931.9,320.8 932.1,321.0 932.4,319.3 932.6,325.5 932.9,320.6 933.1,320.4 933.3,319.2 933.6,321.4 933.8,325.3 934.0,322.7 934.3,314.1 934.5,308.2 934.8,313.1 935.0,309.4 935.2,316.9 935.5,314.8 935.7,313.0 936.0,315.9 936.2,310.4 936.4,310.8 936.7,313.2 936.9,304.7 937.2,304.2 937.4,305.7 937.6,303.7 937.9,300.2 938.1,305.5 938.4,308.9 938.6,297.2 938.8,300.9 939.1,301.9 939.3,307.3 939.6,297.5 939.8,301.7 940.0,296.0 940.3,297.5 940.5,302.7 940.8,301.0 941.0,303.9 941.2,304.5 941.5,301.4 941.7,300.4 941.9,302.6 942.2,306.2 942.4,301.4 942.7,304.2 942.9,305.7 943.1,301.9 943.4,309.1 943.6,302.5 943.9,309.0 944.1,307.2 944.3,306.9 944.6,315.2 944.8,315.1 945.1,312.5 945.3,312.6 945.5,314.2 945.8,320.7 946.0,319.2 946.3,313.6 946.5,314.2 946.7,320.0 947.0,317.9 947.2,316.9 947.5,317.2 947.7,321.0 947.9,314.0 948.2,320.3 948.4,314.7 948.7,323.6 948.9,323.6 949.1,321.5 949.4,319.7 949.6,317.4 949.8,325.7 950.1,322.8 950.3,319.2 950.6,319.8 950.8,325.0 951.0,314.3 951.3,320.2 951.5,325.1 951.8,321.3 952.0,318.7 952.2,324.3 952.5,323.9 952.7,317.9 953.0,318.0 953.2,322.3 953.4,319.0 953.7,323.3 953.9,317.1 954.2,320.8 954.4,318.8 954.6,322.5 954.9,322.8 955.1,322.7 955.4,316.5 955.6,321.0 955.8,322.6 956.1,326.3 956.3,320.8 956.6,321.1 956.8,321.6 957.0,318.6 957.3,319.5 957.5,321.8 957.7,321.2"/>
</g>
<g stroke="#000" stroke-width="2.4">
<line x1="60.00" y1="551" x2="60.00" y2="561.8"/>
<line x1="83.94" y1="551" x2="83.94" y2="560"/>
<line x1="107.88" y1="551" x2="107.88" y2="560"/>
<line x1="131.82" y1="551" x2="131.82" y2="560"/>
<line x1="155.76" y1="551" x2="155.76" y2="560"/>
<line x1="179.70" y1="551" x2="179.70" y2="561.8"/>
<line x1="203.64" y1="551" x2="203.64" y2="560"/>
<line x1="227.58" y1="551" x2="227.58" y2="560"/>
<line x1="251.52" y1="551" x2="251.52" y2="560"/>
<line x1="275.46" y1="551" x2="275.46" y2="560"/>
<line x1="299.40" y1="551" x2="299.40" y2="561.8"/>
<line x1="323.34" y1="551" x2="323.34" y2="560"/>
<line x1="347.28" y1="551" x2="347.28" y2="560"/>
<line x1="371.22" y1="551" x2="371.22" y2="560"/>
<line x1="395.16" y1="551" x2="395.16" y2="560"/>
<line x1="419.10" y1="551" x2="419.10" y2="561.8"/>
<line x1="443.04" y1="551" x2="443.04" y2="560"/>
<line x1="466.98" y1="551" x2="466.98" y2="560"/>
<line x1="490.92" y1="551" x2="490.92" y2="560"/>
<line x1="514.86" y1="551" x2="514.86" y2="560"/>
<line x1="538.80" y1="551" x2="538.80" y2="561.8"/>
<line x1="562.74" y1="551" x2="562.74" y2="560"/>
<line x1="586.68" y1="551" x2="586.68" y2="560"/>
<line x1="610.62" y1="551" x2="610.62" y2="560"/>
<line x1="634.56" y1="551" x2="634.56" y2="560"/>
<line x1="658.50" y1="551" x2="658.50" y2="561.8"/>
<line x1="682.44" y1="551" x2="682.44" y2="560"/>
<line x1="706.38" y1="551" x2="706.38" y2="560"/>
<line x1="730.32" y1="551" x2="730.32" y2="560"/>
<line x1="754.26" y1="551" x2="754.26" y2="560"/>
<line x1="778.20" y1="551" x2="778.20" y2="561.8"/>
<line x1="802.14" y1="551" x2="802.14" y2="560"/>
<line x1="826.08" y1="551" x2="826.08" y2="560"/>
<line x1="850.02" y1="551" x2="850.02" y2="560"/>
<line x1="873.96" y1="551" x2="873.96" y2="560"/>
<line x1="897.90" y1="551" x2="897.90" y2="561.8"/>
<line x1="921.84" y1="551" x2="921.84" y2="560"/>
<line x1="945.78" y1="551" x2="945.78" y2="560"/>
</g>
<text x="51.43" y="607.50" font-size="33" textLength="17.60" lengthAdjust="spacingAndGlyphs" >5</text>
<text x="161.62" y="607.50" font-size="33" textLength="34.68" lengthAdjust="spacingAndGlyphs" >15</text>
<text x="281.62" y="607.50" font-size="33" textLength="35.00" lengthAdjust="spacingAndGlyphs" >25</text>
<text x="401.26" y="607.50" font-size="33" textLength="36.21" lengthAdjust="spacingAndGlyphs" >35</text>
<text x="520.26" y="607.50" font-size="33" textLength="35.68" lengthAdjust="spacingAndGlyphs" >45</text>
<text x="640.71" y="607.50" font-size="33" textLength="35.95" lengthAdjust="spacingAndGlyphs" >55</text>
<text x="760.14" y="607.50" font-size="33" textLength="36.33" lengthAdjust="spacingAndGlyphs" >65</text>
<text x="880.83" y="607.50" font-size="33" textLength="34.06" lengthAdjust="spacingAndGlyphs" >75</text>
<text x="390.60" y="655.50" font-size="32" textLength="237.38" lengthAdjust="spacingAndGlyphs" >2 Theta (degree)</text>
<g transform="translate(28.2,378) rotate(-90)"><text x="-3.01" y="0.00" font-size="32" textLength="215.63" lengthAdjust="spacingAndGlyphs" >Intensity (a. u.)</text></g>
<!-- legend -->
<rect x="462.5" y="8.5" width="489.5" height="83.3" fill="#fff" stroke="#000" stroke-width="2"/>
<line x1="471.5" y1="29.1" x2="501.5" y2="29.1" stroke="#5B9BD5" stroke-width="2"/>
<line x1="471.5" y1="71.1" x2="501.5" y2="71.1" stroke="#ED7D31" stroke-width="2"/>
<text x="503.65" y="40.00" font-size="31" textLength="154.08" lengthAdjust="spacingAndGlyphs" >(a) Biochar</text>
<text x="503.80" y="81.80" font-size="31" textLength="439.92" lengthAdjust="spacingAndGlyphs" >(b) Biochar + MgO + iron oxide</text>
<!-- annotation box -->
<rect x="64.5" y="7.5" width="184.5" height="157.5" fill="#fff" stroke="#000" stroke-width="2"/>
<g transform="translate(74.67,41.00) scale(0.9326,1)"><text x="0.00" y="0.00" font-size="26.00">C = c</text></g>
<g transform="translate(75.06,77.40) scale(1.0033,1)"><text x="0.00" y="0.00" font-size="26.00">MgO = #</text></g>
<g transform="translate(75.11,113.10) scale(0.9796,1)"><text x="0.00" y="0.00" font-size="26.00">Fe</text><text x="30.34" y="6.00" font-size="16.12">3</text><text x="39.31" y="0.00" font-size="26.00">O</text><text x="59.53" y="6.00" font-size="16.12">4</text><text x="68.50" y="0.00" font-size="26.00"> =</text></g>
<g transform="translate(75.45,148.90) scale(0.9445,1)"><text x="0.00" y="0.00" font-size="26.00">Ca(CO</text><text x="80.89" y="6.00" font-size="16.12">3</text><text x="89.86" y="0.00" font-size="26.00">) = x</text></g>
<text transform="translate(219.41,294.50) scale(0.923,1)" font-size="21.78" stroke="#000" stroke-width="0.25">#</text>
<text transform="translate(325.33,280.99) scale(0.940,1)" font-size="21.72" >c</text>

<text transform="translate(435.93,292.60) scale(0.932,1)" font-size="16.08" stroke="#000" stroke-width="0.25">#</text>


<text transform="translate(508.91,143.50) scale(0.911,1)" font-size="22.07" stroke="#000" stroke-width="0.25">#</text>
<text transform="translate(741.41,137.50) scale(0.949,1)" font-size="21.20" stroke="#000" stroke-width="0.25">#</text>
<text transform="translate(889.83,301.00) scale(0.932,1)" font-size="16.08" stroke="#000" stroke-width="0.25">#</text>
<text transform="translate(935.68,292.80) scale(1.013,1)" font-size="15.35" stroke="#000" stroke-width="0.25">#</text>

<text transform="translate(316.35,474.10) scale(0.967,1)" font-size="20.63" >c</text>









<g stroke="#000" stroke-width="1.5" stroke-linecap="round">
<g stroke-width="1.5"><line x1="359.20" y1="194.30" x2="359.20" y2="201.30"/><line x1="356.17" y1="196.05" x2="362.23" y2="199.55"/><line x1="356.17" y1="199.55" x2="362.23" y2="196.05"/></g>
<g stroke-width="1.5"><line x1="423.00" y1="33.50" x2="423.00" y2="40.50"/><line x1="419.97" y1="35.25" x2="426.03" y2="38.75"/><line x1="419.97" y1="38.75" x2="426.03" y2="35.25"/></g>
<g stroke-width="1.5"><line x1="522.00" y1="251.20" x2="522.00" y2="258.20"/><line x1="518.97" y1="252.95" x2="525.03" y2="256.45"/><line x1="518.97" y1="256.45" x2="525.03" y2="252.95"/></g>
<g stroke-width="1.5"><line x1="638.20" y1="272.20" x2="638.20" y2="279.20"/><line x1="635.17" y1="273.95" x2="641.23" y2="277.45"/><line x1="635.17" y1="277.45" x2="641.23" y2="273.95"/></g>
<g stroke-width="1.5"><line x1="681.00" y1="221.20" x2="681.00" y2="228.20"/><line x1="677.97" y1="222.95" x2="684.03" y2="226.45"/><line x1="677.97" y1="226.45" x2="684.03" y2="222.95"/></g>
<g stroke-width="1.5"><line x1="754.00" y1="248.50" x2="754.00" y2="255.50"/><line x1="750.97" y1="250.25" x2="757.03" y2="253.75"/><line x1="750.97" y1="253.75" x2="757.03" y2="250.25"/></g>
<g stroke-width="1.5"><line x1="883.60" y1="285.70" x2="883.60" y2="292.70"/><line x1="880.57" y1="287.45" x2="886.63" y2="290.95"/><line x1="880.57" y1="290.95" x2="886.63" y2="287.45"/></g>
<g stroke-width="2.1"><line x1="178.00" y1="93.70" x2="178.00" y2="102.30"/><line x1="174.28" y1="95.85" x2="181.72" y2="100.15"/><line x1="174.28" y1="100.15" x2="181.72" y2="95.85"/></g>
</g>
<g stroke="#000" stroke-width="1.6" fill="none">
<path d="M346.40,250.50L353.60,261.50M353.60,250.50L346.40,261.50"/>
<path d="M444.50,292.40L451.70,303.40M451.70,292.40L444.50,303.40"/>
<path d="M465.90,290.30L473.10,301.00M473.10,290.30L465.90,301.00"/>
<path d="M272.70,442.90L279.90,453.50M279.90,442.90L272.70,453.50"/>
<path d="M427.90,504.90L435.10,514.70M435.10,504.90L427.90,514.70"/>
<path d="M468.60,488.20L475.80,499.30M475.80,488.20L468.60,499.30"/>
<path d="M512.40,487.30L519.60,497.40M519.60,487.30L512.40,497.40"/>
<path d="M561.20,501.30L568.40,511.20M568.40,501.30L561.20,511.20"/>
<path d="M576.40,492.30L583.60,502.00M583.60,492.30L576.40,502.00"/>
<path d="M725.40,521.30L732.60,531.40M732.60,521.30L725.40,531.40"/>
<path d="M781.00,516.30L788.20,526.70M788.20,516.30L781.00,526.70"/>
<path d="M832.30,524.30L839.50,534.70M839.50,524.30L832.30,534.70"/>
<path d="M862.80,527.30L870.00,537.70M870.00,527.30L862.80,537.70"/>
</g>
<text x="66.41" y="268.00" font-size="55" textLength="69.28" lengthAdjust="spacingAndGlyphs" class="serif" style="fill:#FF0000;stroke:none">(b)</text>
<text x="75.52" y="468.00" font-size="55" textLength="65.76" lengthAdjust="spacingAndGlyphs" class="serif" style="fill:#0070C0;stroke:none">(a)</text>
</svg>
</body></html>
